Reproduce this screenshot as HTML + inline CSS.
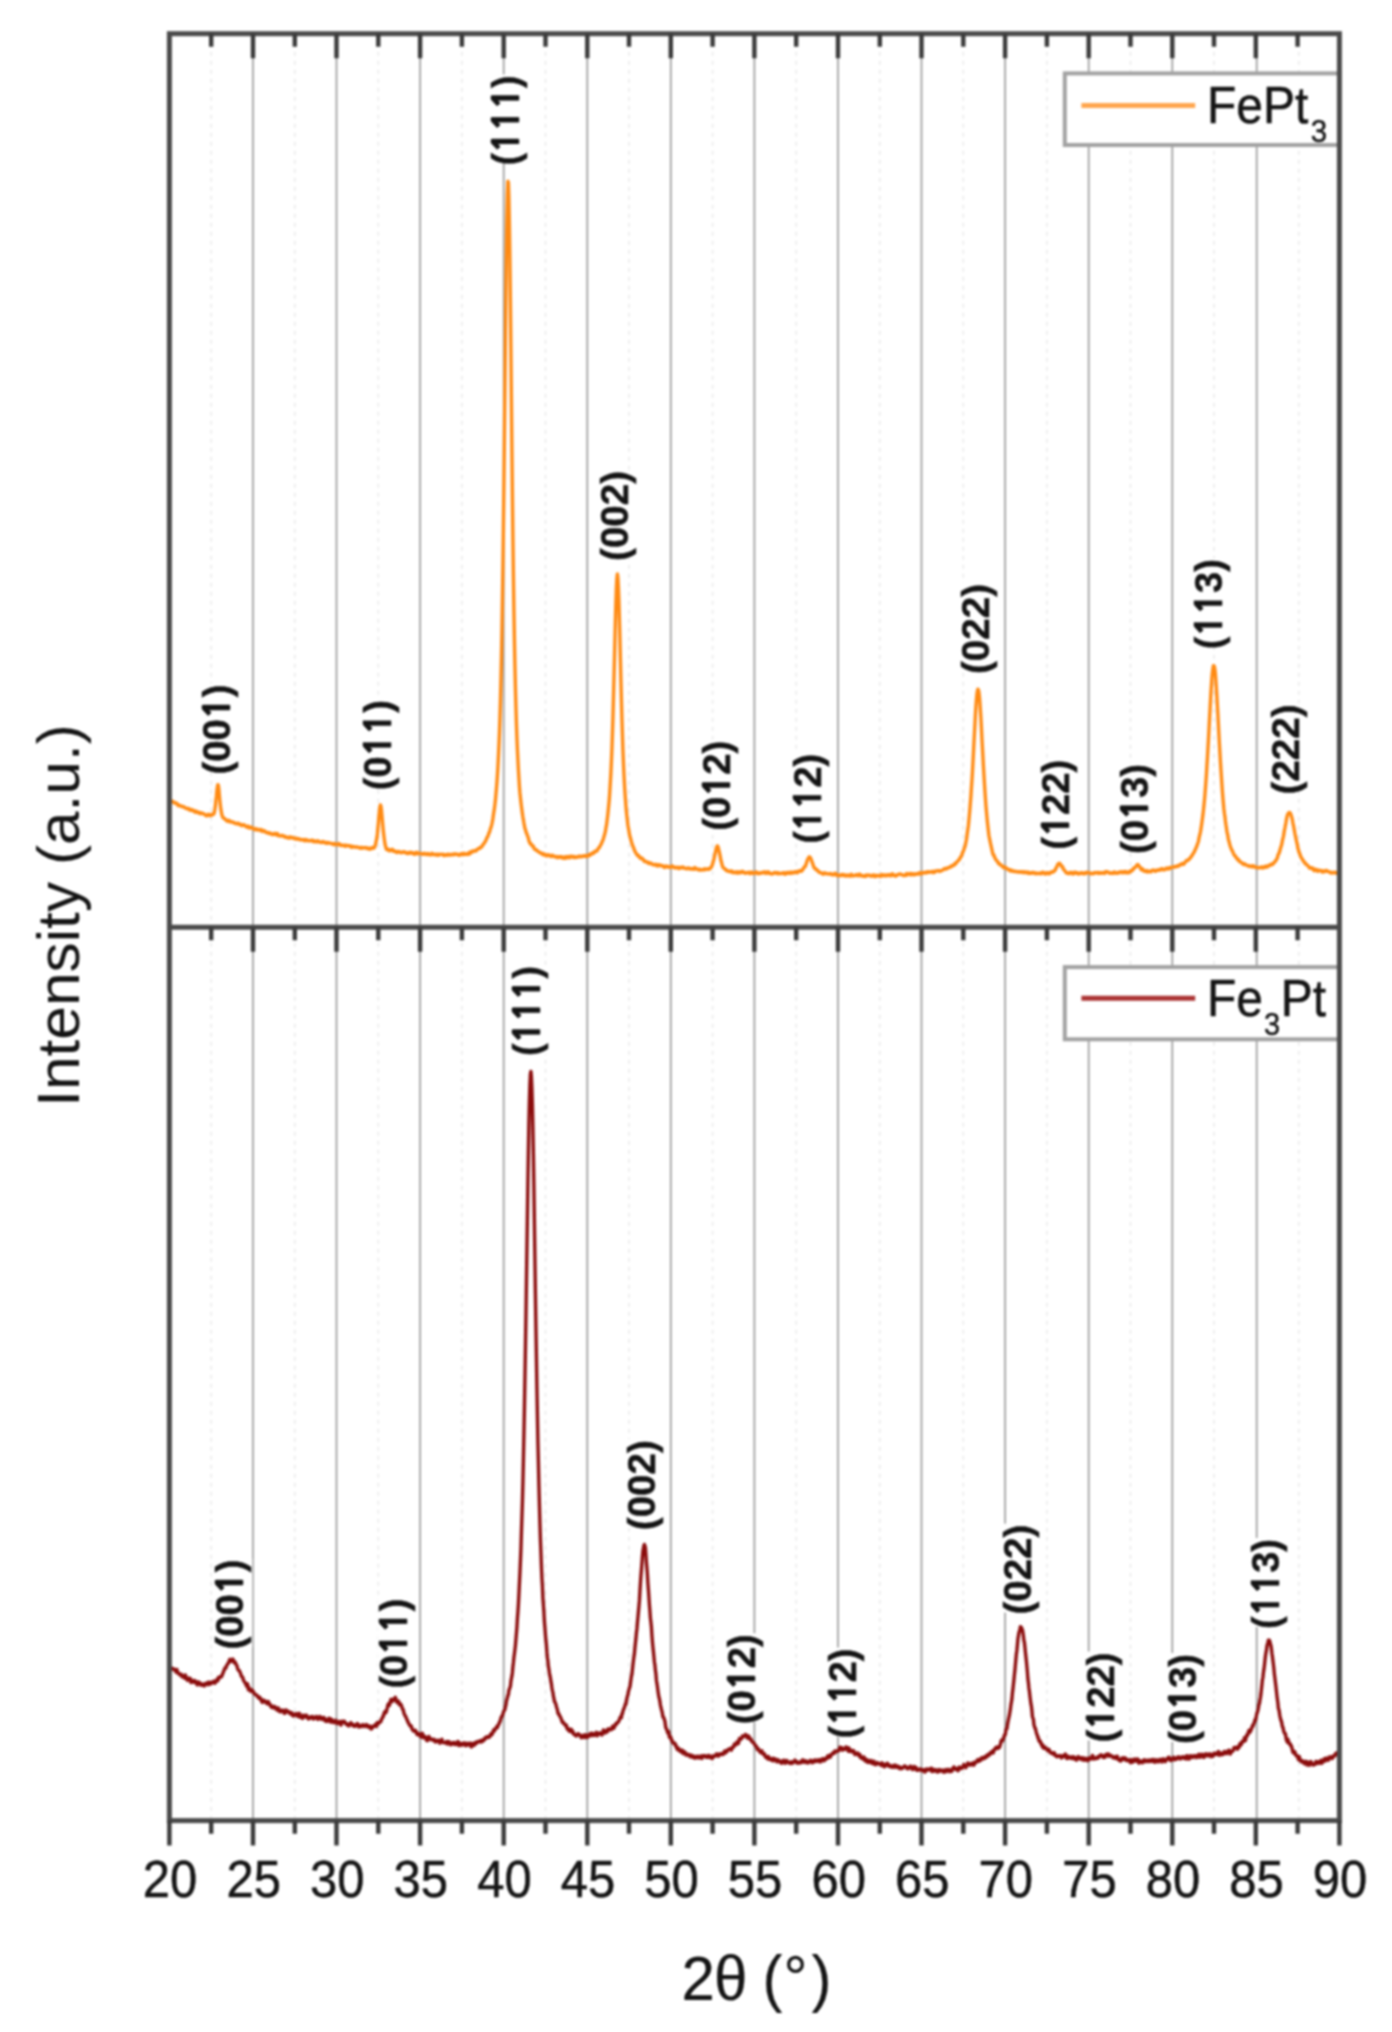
<!DOCTYPE html>
<html><head><meta charset="utf-8"><title>XRD FePt3 / Fe3Pt</title>
<style>
html,body{margin:0;padding:0;background:#fff;}
svg{display:block;filter:blur(0.95px);}
text{font-family:"Liberation Sans",Arial,sans-serif;fill:#141414;stroke:#141414;stroke-width:0.45px;}
.pk{font-weight:bold;font-size:38.5px;}
.one{font-family:"NanumGothic","Liberation Sans",sans-serif;font-weight:800;font-size:0.95em;}
</style></head><body>
<svg width="1392" height="2032" viewBox="0 0 1392 2032">
<rect x="0" y="0" width="1392" height="2032" fill="#fff"/>
<defs><clipPath id="cu"><rect x="169.4" y="33.7" width="1170.0" height="893.5"/></clipPath><clipPath id="cl"><rect x="169.4" y="927.2" width="1170.0" height="893.4"/></clipPath></defs>
<g><line x1="211.2" y1="33.7" x2="211.2" y2="1820.6" stroke="#e9e9e9" stroke-width="1.5" stroke-dasharray="4 5"/><line x1="253.0" y1="33.7" x2="253.0" y2="1820.6" stroke="#9c9c9c" stroke-width="1.7"/><line x1="294.8" y1="33.7" x2="294.8" y2="1820.6" stroke="#e9e9e9" stroke-width="1.5" stroke-dasharray="4 5"/><line x1="336.5" y1="33.7" x2="336.5" y2="1820.6" stroke="#9c9c9c" stroke-width="1.7"/><line x1="378.3" y1="33.7" x2="378.3" y2="1820.6" stroke="#e9e9e9" stroke-width="1.5" stroke-dasharray="4 5"/><line x1="420.1" y1="33.7" x2="420.1" y2="1820.6" stroke="#9c9c9c" stroke-width="1.7"/><line x1="461.9" y1="33.7" x2="461.9" y2="1820.6" stroke="#e9e9e9" stroke-width="1.5" stroke-dasharray="4 5"/><line x1="503.7" y1="33.7" x2="503.7" y2="1820.6" stroke="#9c9c9c" stroke-width="1.7"/><line x1="545.5" y1="33.7" x2="545.5" y2="1820.6" stroke="#e9e9e9" stroke-width="1.5" stroke-dasharray="4 5"/><line x1="587.3" y1="33.7" x2="587.3" y2="1820.6" stroke="#9c9c9c" stroke-width="1.7"/><line x1="629.0" y1="33.7" x2="629.0" y2="1820.6" stroke="#e9e9e9" stroke-width="1.5" stroke-dasharray="4 5"/><line x1="670.8" y1="33.7" x2="670.8" y2="1820.6" stroke="#9c9c9c" stroke-width="1.7"/><line x1="712.6" y1="33.7" x2="712.6" y2="1820.6" stroke="#e9e9e9" stroke-width="1.5" stroke-dasharray="4 5"/><line x1="754.4" y1="33.7" x2="754.4" y2="1820.6" stroke="#9c9c9c" stroke-width="1.7"/><line x1="796.2" y1="33.7" x2="796.2" y2="1820.6" stroke="#e9e9e9" stroke-width="1.5" stroke-dasharray="4 5"/><line x1="838.0" y1="33.7" x2="838.0" y2="1820.6" stroke="#9c9c9c" stroke-width="1.7"/><line x1="879.8" y1="33.7" x2="879.8" y2="1820.6" stroke="#e9e9e9" stroke-width="1.5" stroke-dasharray="4 5"/><line x1="921.5" y1="33.7" x2="921.5" y2="1820.6" stroke="#9c9c9c" stroke-width="1.7"/><line x1="963.3" y1="33.7" x2="963.3" y2="1820.6" stroke="#e9e9e9" stroke-width="1.5" stroke-dasharray="4 5"/><line x1="1005.1" y1="33.7" x2="1005.1" y2="1820.6" stroke="#9c9c9c" stroke-width="1.7"/><line x1="1046.9" y1="33.7" x2="1046.9" y2="1820.6" stroke="#e9e9e9" stroke-width="1.5" stroke-dasharray="4 5"/><line x1="1088.7" y1="33.7" x2="1088.7" y2="1820.6" stroke="#9c9c9c" stroke-width="1.7"/><line x1="1130.5" y1="33.7" x2="1130.5" y2="1820.6" stroke="#e9e9e9" stroke-width="1.5" stroke-dasharray="4 5"/><line x1="1172.3" y1="33.7" x2="1172.3" y2="1820.6" stroke="#9c9c9c" stroke-width="1.7"/><line x1="1214.0" y1="33.7" x2="1214.0" y2="1820.6" stroke="#e9e9e9" stroke-width="1.5" stroke-dasharray="4 5"/><line x1="1256.7" y1="33.7" x2="1256.7" y2="1820.6" stroke="#9c9c9c" stroke-width="1.7"/><line x1="1298.8" y1="33.7" x2="1298.8" y2="1820.6" stroke="#e9e9e9" stroke-width="1.5" stroke-dasharray="4 5"/></g>
<path clip-path="url(#cu)" d="M169.4 801.2L169.9 801.7L170.4 801.5L170.9 801.2L171.4 801.0L171.9 801.5L172.4 801.4L172.9 801.3L173.4 802.0L173.9 802.5L174.4 803.0L174.9 802.7L175.4 803.1L175.9 803.4L176.4 803.0L176.9 803.8L177.4 804.2L177.9 805.4L178.4 805.2L178.9 805.0L179.4 805.7L179.9 805.6L180.4 806.0L180.9 805.8L181.4 806.1L181.9 806.6L182.4 806.9L182.9 806.9L183.4 806.5L183.9 807.0L184.4 807.2L184.9 807.7L185.4 807.8L185.9 808.4L186.4 808.3L186.9 808.4L187.4 808.8L187.9 808.4L188.4 808.5L188.9 808.7L189.4 809.9L189.9 809.7L190.4 810.0L190.9 810.3L191.4 810.1L191.9 809.6L192.4 810.5L192.9 810.5L193.4 811.0L193.9 810.5L194.4 810.8L194.9 811.7L195.4 812.3L195.9 811.5L196.4 811.2L196.9 811.7L197.4 812.4L197.9 812.5L198.4 812.8L198.9 812.4L199.4 813.0L199.9 813.6L200.4 813.3L200.9 812.8L201.4 813.0L201.9 813.7L202.4 813.2L202.9 813.6L203.4 813.6L203.9 813.9L204.4 814.2L204.9 814.5L205.4 815.3L205.9 815.3L206.4 815.8L206.9 815.4L207.4 815.2L207.9 815.5L208.4 814.3L208.9 814.9L209.4 815.4L209.9 815.0L210.4 815.6L210.9 815.4L211.4 814.5L211.9 815.0L212.4 814.7L212.9 814.6L213.4 814.2L213.9 813.8L214.4 812.0L214.9 809.3L215.4 805.8L215.9 800.4L216.4 796.2L216.9 790.6L217.4 786.9L217.9 784.7L218.4 785.6L218.9 789.5L219.4 795.6L219.9 801.1L220.4 805.6L220.9 809.6L221.4 812.3L221.9 814.8L222.4 816.2L222.9 817.7L223.4 817.7L223.9 818.3L224.4 818.5L224.9 818.8L225.4 819.7L225.9 819.9L226.4 820.4L226.9 820.9L227.4 821.3L227.9 820.5L228.4 821.0L228.9 820.3L229.4 820.8L229.9 821.9L230.4 821.7L230.9 821.6L231.4 821.8L231.9 821.9L232.4 822.1L232.9 821.9L233.4 822.6L233.9 823.0L234.4 822.8L234.9 823.0L235.4 823.3L235.9 823.7L236.4 823.7L236.9 823.9L237.4 823.6L237.9 823.2L238.4 823.4L238.9 824.1L239.4 824.6L239.9 824.5L240.4 824.2L240.9 824.5L241.4 825.3L241.9 825.7L242.4 825.1L242.9 825.1L243.4 824.6L243.9 824.6L244.4 825.2L244.9 825.5L245.4 826.1L245.9 826.6L246.4 826.8L246.9 827.1L247.4 826.6L247.9 826.1L248.4 826.7L248.9 827.9L249.4 827.7L249.9 827.0L250.4 827.3L250.9 828.0L251.4 827.4L251.9 828.0L252.4 827.7L252.9 828.5L253.4 828.7L253.9 828.7L254.4 829.5L254.9 829.0L255.4 828.6L255.9 829.6L256.4 829.1L256.9 830.1L257.4 829.8L257.9 829.3L258.4 829.5L258.9 829.8L259.4 830.0L259.9 830.1L260.4 830.7L260.9 829.6L261.4 829.9L261.9 830.3L262.4 831.4L262.9 830.4L263.4 830.7L263.9 830.6L264.4 830.8L264.9 831.5L265.4 831.9L265.9 832.5L266.4 832.1L266.9 832.3L267.4 832.8L267.9 833.1L268.4 832.7L268.9 833.3L269.4 832.7L269.9 833.7L270.4 833.5L270.9 833.4L271.4 833.6L271.9 834.0L272.4 834.6L272.9 834.2L273.4 833.9L273.9 834.3L274.4 833.9L274.9 833.4L275.4 834.3L275.9 834.3L276.4 835.0L276.9 834.5L277.4 833.5L277.9 834.4L278.4 834.9L278.9 835.8L279.4 835.8L279.9 835.8L280.4 836.0L280.9 835.7L281.4 835.8L281.9 835.3L282.4 835.9L282.9 835.7L283.4 835.8L283.9 836.4L284.4 836.8L284.9 836.3L285.4 837.3L285.9 836.8L286.4 837.2L286.9 837.5L287.4 837.4L287.9 837.3L288.4 838.0L288.9 838.1L289.4 837.9L289.9 836.9L290.4 836.9L290.9 837.8L291.4 837.9L291.9 837.4L292.4 837.4L292.9 837.6L293.4 838.1L293.9 838.3L294.4 838.7L294.9 838.1L295.4 838.7L295.9 838.4L296.4 838.3L296.9 839.2L297.4 839.0L297.9 838.8L298.4 838.7L298.9 838.6L299.4 839.5L299.9 839.8L300.4 839.8L300.9 839.6L301.4 839.8L301.9 839.5L302.4 839.7L302.9 839.7L303.4 839.7L303.9 840.3L304.4 840.7L304.9 840.8L305.4 839.5L305.9 840.4L306.4 840.5L306.9 840.0L307.4 840.0L307.9 840.6L308.4 840.9L308.9 840.9L309.4 840.7L309.9 840.6L310.4 840.9L310.9 840.7L311.4 840.2L311.9 840.2L312.4 840.4L312.9 840.7L313.4 841.7L313.9 840.8L314.4 841.1L314.9 841.0L315.4 841.2L315.9 841.8L316.4 842.0L316.9 841.6L317.4 841.3L317.9 840.8L318.4 841.1L318.9 841.9L319.4 841.7L319.9 842.0L320.4 842.2L320.9 842.2L321.4 842.6L321.9 842.3L322.4 841.8L322.9 841.5L323.4 842.3L323.9 842.2L324.4 842.2L324.9 842.7L325.4 842.3L325.9 843.2L326.4 843.3L326.9 842.8L327.4 842.6L327.9 843.2L328.4 842.6L328.9 842.6L329.4 842.9L329.9 843.2L330.4 843.3L330.9 843.5L331.4 843.4L331.9 843.4L332.4 844.1L332.9 844.2L333.4 843.8L333.9 844.6L334.4 843.5L334.9 843.8L335.4 844.3L335.9 844.7L336.4 844.5L336.9 844.3L337.4 844.7L337.9 844.5L338.4 844.8L338.9 843.6L339.4 844.3L339.9 844.3L340.4 845.0L340.9 845.4L341.4 845.6L341.9 845.2L342.4 845.4L342.9 845.3L343.4 845.4L343.9 845.4L344.4 845.2L344.9 846.3L345.4 846.3L345.9 845.2L346.4 845.9L346.9 845.4L347.4 845.6L347.9 845.7L348.4 845.7L348.9 846.1L349.4 846.1L349.9 845.7L350.4 846.1L350.9 846.5L351.4 847.3L351.9 846.9L352.4 846.3L352.9 846.5L353.4 847.0L353.9 846.6L354.4 846.6L354.9 847.1L355.4 847.2L355.9 847.3L356.4 847.1L356.9 846.9L357.4 847.1L357.9 847.2L358.4 847.3L358.9 847.7L359.4 847.9L359.9 848.1L360.4 848.2L360.9 847.7L361.4 847.3L361.9 848.0L362.4 848.0L362.9 848.1L363.4 847.6L363.9 847.8L364.4 847.8L364.9 847.6L365.4 847.7L365.9 847.4L366.4 847.9L366.9 848.6L367.4 848.2L367.9 848.3L368.4 847.9L368.9 848.4L369.4 849.2L369.9 848.3L370.4 848.2L370.9 848.8L371.4 848.7L371.9 848.5L372.4 847.4L372.9 847.5L373.4 847.9L373.9 848.1L374.4 847.6L374.9 846.3L375.4 844.9L375.9 842.6L376.4 840.2L376.9 837.9L377.4 833.7L377.9 828.0L378.4 823.1L378.9 816.2L379.4 811.4L379.9 806.9L380.4 805.0L380.9 806.1L381.4 809.5L381.9 815.1L382.4 820.8L382.9 826.6L383.4 831.8L383.9 836.0L384.4 839.9L384.9 843.4L385.4 845.8L385.9 847.6L386.4 849.4L386.9 849.6L387.4 849.7L387.9 849.2L388.4 849.4L388.9 850.7L389.4 850.7L389.9 850.4L390.4 850.6L390.9 849.8L391.4 849.9L391.9 849.8L392.4 849.4L392.9 850.5L393.4 851.2L393.9 851.1L394.4 851.3L394.9 850.9L395.4 851.3L395.9 851.7L396.4 852.3L396.9 852.6L397.4 852.3L397.9 852.0L398.4 851.5L398.9 851.4L399.4 851.9L399.9 852.2L400.4 852.1L400.9 852.8L401.4 852.7L401.9 852.4L402.4 852.2L402.9 852.3L403.4 851.9L403.9 851.7L404.4 852.2L404.9 852.1L405.4 852.2L405.9 852.9L406.4 852.7L406.9 853.2L407.4 853.0L407.9 853.5L408.4 853.4L408.9 852.4L409.4 853.2L409.9 853.0L410.4 852.2L410.9 852.7L411.4 853.0L411.9 852.5L412.4 852.6L412.9 853.2L413.4 853.8L413.9 854.1L414.4 854.2L414.9 854.3L415.4 852.8L415.9 852.9L416.4 853.3L416.9 852.3L417.4 853.3L417.9 853.9L418.4 853.5L418.9 853.5L419.4 853.2L419.9 853.5L420.4 853.7L420.9 853.8L421.4 853.5L421.9 853.9L422.4 853.8L422.9 854.4L423.4 854.4L423.9 853.6L424.4 853.3L424.9 853.8L425.4 853.8L425.9 854.3L426.4 854.6L426.9 854.5L427.4 853.8L427.9 853.6L428.4 854.3L428.9 854.0L429.4 854.7L429.9 854.6L430.4 854.8L430.9 854.4L431.4 854.5L431.9 853.3L432.4 853.9L432.9 854.6L433.4 854.3L433.9 854.2L434.4 854.5L434.9 854.7L435.4 854.4L435.9 854.9L436.4 854.2L436.9 855.0L437.4 854.4L437.9 854.3L438.4 855.2L438.9 854.7L439.4 854.2L439.9 854.6L440.4 854.4L440.9 854.3L441.4 854.4L441.9 854.4L442.4 854.3L442.9 854.3L443.4 855.4L443.9 855.0L444.4 855.4L444.9 854.7L445.4 855.1L445.9 854.6L446.4 854.7L446.9 855.2L447.4 854.9L447.9 854.2L448.4 854.4L448.9 854.7L449.4 855.1L449.9 854.7L450.4 854.7L450.9 854.9L451.4 854.3L451.9 854.6L452.4 854.4L452.9 854.9L453.4 854.9L453.9 854.8L454.4 853.8L454.9 854.3L455.4 854.4L455.9 854.2L456.4 854.3L456.9 854.0L457.4 854.4L457.9 854.8L458.4 855.0L458.9 854.5L459.4 855.2L459.9 855.2L460.4 854.4L460.9 854.3L461.4 853.6L461.9 853.9L462.4 854.3L462.9 854.7L463.4 854.2L463.9 853.3L464.4 853.5L464.9 854.2L465.4 854.0L465.9 854.3L466.4 854.2L466.9 854.5L467.4 854.1L467.9 853.3L468.4 853.4L468.9 854.2L469.4 853.2L469.9 852.1L470.4 853.2L470.9 852.9L471.4 852.2L471.9 851.8L472.4 851.1L472.9 851.6L473.4 851.5L473.9 851.1L474.4 850.8L474.9 850.5L475.4 850.9L475.9 850.4L476.4 850.7L476.9 849.8L477.4 849.2L477.9 848.9L478.4 848.5L478.9 848.3L479.4 848.5L479.9 848.4L480.4 847.2L480.9 847.3L481.4 846.7L481.9 846.7L482.4 845.7L482.9 844.6L483.4 844.4L483.9 843.9L484.4 842.8L484.9 842.1L485.4 841.3L485.9 840.6L486.4 838.9L486.9 837.7L487.4 837.1L487.9 836.2L488.4 834.8L488.9 832.9L489.4 832.5L489.9 830.7L490.4 828.6L490.9 827.7L491.4 825.9L491.9 823.8L492.4 821.4L492.9 818.6L493.4 815.0L493.9 811.8L494.4 808.4L494.9 804.6L495.4 800.3L495.9 794.7L496.4 788.9L496.9 782.7L497.4 775.5L497.9 767.1L498.4 757.1L498.9 746.2L499.4 734.2L499.9 719.7L500.4 703.0L500.9 682.3L501.4 659.5L501.9 633.5L502.4 602.0L502.9 567.2L503.4 527.8L503.9 485.7L504.4 439.1L504.9 390.2L505.4 341.3L505.9 294.2L506.4 252.3L506.9 218.0L507.4 193.7L507.9 181.3L508.4 182.6L508.9 197.2L509.4 223.8L509.9 258.9L510.4 302.7L510.9 350.4L511.4 399.7L511.9 448.1L512.4 494.2L512.9 537.0L513.4 575.4L513.9 609.5L514.4 638.9L514.9 664.5L515.4 687.0L515.9 706.0L516.4 723.0L516.9 737.3L517.4 749.3L517.9 759.7L518.4 769.5L518.9 777.8L519.4 786.1L519.9 792.5L520.4 797.3L520.9 802.0L521.4 806.1L521.9 810.0L522.4 813.7L522.9 817.1L523.4 819.8L523.9 823.0L524.4 825.6L524.9 828.5L525.4 829.4L525.9 831.6L526.4 833.0L526.9 833.9L527.4 835.6L527.9 836.5L528.4 838.2L528.9 840.7L529.4 841.9L529.9 843.1L530.4 843.9L530.9 843.6L531.4 844.6L531.9 845.3L532.4 846.2L532.9 846.3L533.4 846.2L533.9 848.2L534.4 849.0L534.9 849.3L535.4 849.4L535.9 849.9L536.4 849.7L536.9 850.8L537.4 851.1L537.9 851.4L538.4 851.5L538.9 851.9L539.4 852.3L539.9 852.4L540.4 853.2L540.9 853.3L541.4 853.4L541.9 853.2L542.4 854.1L542.9 854.7L543.4 854.8L543.9 853.9L544.4 854.1L544.9 854.9L545.4 855.0L545.9 855.6L546.4 855.2L546.9 855.6L547.4 855.8L547.9 854.7L548.4 855.0L548.9 855.3L549.4 855.3L549.9 855.3L550.4 856.3L550.9 856.2L551.4 856.5L551.9 855.8L552.4 855.2L552.9 855.6L553.4 856.2L553.9 856.1L554.4 856.5L554.9 856.9L555.4 856.6L555.9 856.6L556.4 856.4L556.9 857.0L557.4 857.7L557.9 857.5L558.4 857.0L558.9 856.6L559.4 856.7L559.9 857.2L560.4 856.8L560.9 857.5L561.4 856.7L561.9 856.9L562.4 857.5L562.9 858.1L563.4 857.4L563.9 857.6L564.4 858.4L564.9 858.3L565.4 856.8L565.9 857.1L566.4 858.1L566.9 857.1L567.4 857.5L567.9 856.5L568.4 857.5L568.9 857.0L569.4 857.4L569.9 857.7L570.4 856.2L570.9 856.1L571.4 856.7L571.9 856.3L572.4 856.7L572.9 856.5L573.4 857.4L573.9 857.0L574.4 856.6L574.9 857.1L575.4 857.6L575.9 857.2L576.4 857.2L576.9 857.3L577.4 856.9L577.9 856.4L578.4 856.8L578.9 856.6L579.4 856.1L579.9 856.7L580.4 856.9L580.9 856.8L581.4 856.3L581.9 856.3L582.4 856.6L582.9 856.6L583.4 856.1L583.9 855.7L584.4 856.0L584.9 856.1L585.4 856.3L585.9 855.5L586.4 856.0L586.9 856.5L587.4 856.3L587.9 855.8L588.4 855.8L588.9 854.8L589.4 854.6L589.9 855.4L590.4 854.2L590.9 853.7L591.4 854.1L591.9 853.6L592.4 853.2L592.9 852.7L593.4 853.4L593.9 852.7L594.4 852.3L594.9 851.2L595.4 851.6L595.9 851.2L596.4 851.0L596.9 851.1L597.4 850.3L597.9 849.0L598.4 848.1L598.9 847.8L599.4 847.7L599.9 846.2L600.4 845.4L600.9 844.5L601.4 843.9L601.9 842.3L602.4 841.3L602.9 840.3L603.4 838.7L603.9 836.9L604.4 835.3L604.9 833.3L605.4 831.4L605.9 828.0L606.4 825.7L606.9 822.1L607.4 817.9L607.9 813.7L608.4 808.7L608.9 803.5L609.4 798.0L609.9 789.8L610.4 781.5L610.9 772.8L611.4 761.8L611.9 749.7L612.4 734.8L612.9 718.9L613.4 700.0L613.9 680.7L614.4 660.9L614.9 640.6L615.4 620.9L615.9 602.5L616.4 587.6L616.9 578.1L617.4 574.0L617.9 577.8L618.4 587.1L618.9 600.3L619.4 618.9L619.9 638.0L620.4 659.4L620.9 679.8L621.4 699.0L621.9 717.9L622.4 734.0L622.9 749.5L623.4 761.9L623.9 773.3L624.4 782.9L624.9 791.6L625.4 798.8L625.9 805.8L626.4 811.6L626.9 816.4L627.4 820.6L627.9 825.3L628.4 828.0L628.9 830.8L629.4 833.9L629.9 836.3L630.4 837.7L630.9 840.0L631.4 841.8L631.9 843.2L632.4 845.1L632.9 846.0L633.4 847.5L633.9 848.4L634.4 850.4L634.9 851.1L635.4 852.2L635.9 853.0L636.4 854.0L636.9 854.5L637.4 855.4L637.9 855.9L638.4 855.3L638.9 856.4L639.4 856.6L639.9 857.8L640.4 858.3L640.9 858.6L641.4 858.0L641.9 858.0L642.4 858.6L642.9 859.4L643.4 859.5L643.9 861.1L644.4 861.4L644.9 861.5L645.4 861.3L645.9 861.5L646.4 861.8L646.9 862.0L647.4 862.3L647.9 863.0L648.4 862.3L648.9 862.9L649.4 863.6L649.9 863.0L650.4 863.3L650.9 863.5L651.4 863.3L651.9 864.1L652.4 864.1L652.9 864.8L653.4 864.8L653.9 864.6L654.4 864.8L654.9 864.7L655.4 864.2L655.9 865.2L656.4 865.4L656.9 865.8L657.4 864.8L657.9 865.6L658.4 865.9L658.9 865.7L659.4 864.8L659.9 865.3L660.4 865.3L660.9 865.5L661.4 865.8L661.9 865.5L662.4 865.8L662.9 866.0L663.4 866.7L663.9 866.4L664.4 867.4L664.9 866.4L665.4 866.4L665.9 866.9L666.4 866.1L666.9 866.6L667.4 866.8L667.9 866.5L668.4 866.5L668.9 867.3L669.4 866.9L669.9 867.0L670.4 867.1L670.9 867.5L671.4 866.4L671.9 866.1L672.4 866.0L672.9 866.5L673.4 867.1L673.9 867.5L674.4 867.2L674.9 867.9L675.4 867.6L675.9 867.8L676.4 867.3L676.9 867.7L677.4 867.3L677.9 867.9L678.4 868.1L678.9 868.6L679.4 868.0L679.9 867.3L680.4 867.9L680.9 867.9L681.4 867.7L681.9 867.2L682.4 867.9L682.9 867.1L683.4 867.3L683.9 868.1L684.4 868.0L684.9 868.2L685.4 868.4L685.9 868.5L686.4 868.8L686.9 868.8L687.4 868.4L687.9 867.9L688.4 868.0L688.9 868.0L689.4 868.4L689.9 869.0L690.4 869.1L690.9 868.6L691.4 868.7L691.9 868.7L692.4 868.5L692.9 869.2L693.4 869.3L693.9 869.2L694.4 868.5L694.9 867.6L695.4 868.0L695.9 869.0L696.4 868.9L696.9 869.0L697.4 869.0L697.9 869.3L698.4 869.2L698.9 870.0L699.4 869.6L699.9 869.3L700.4 869.9L700.9 870.0L701.4 870.0L701.9 869.9L702.4 869.7L702.9 869.7L703.4 869.8L703.9 869.7L704.4 868.8L704.9 869.7L705.4 869.4L705.9 869.2L706.4 869.2L706.9 869.0L707.4 868.8L707.9 869.0L708.4 869.4L708.9 869.1L709.4 869.1L709.9 868.2L710.4 868.4L710.9 867.3L711.4 867.2L711.9 865.9L712.4 864.6L712.9 862.8L713.4 860.9L713.9 859.2L714.4 856.8L714.9 854.5L715.4 852.7L715.9 849.8L716.4 847.8L716.9 846.6L717.4 845.9L717.9 846.5L718.4 848.0L718.9 850.4L719.4 852.3L719.9 854.9L720.4 857.4L720.9 860.4L721.4 861.9L721.9 864.0L722.4 865.9L722.9 867.3L723.4 867.8L723.9 868.2L724.4 868.3L724.9 869.0L725.4 869.6L725.9 869.5L726.4 870.5L726.9 870.8L727.4 870.8L727.9 870.7L728.4 871.2L728.9 871.1L729.4 871.5L729.9 871.2L730.4 871.8L730.9 871.0L731.4 870.9L731.9 872.0L732.4 872.3L732.9 872.7L733.4 871.9L733.9 872.2L734.4 872.5L734.9 872.6L735.4 872.2L735.9 872.7L736.4 872.5L736.9 871.8L737.4 873.0L737.9 872.6L738.4 872.9L738.9 872.2L739.4 871.8L739.9 872.4L740.4 872.7L740.9 872.2L741.4 872.3L741.9 871.8L742.4 871.2L742.9 872.2L743.4 871.8L743.9 872.4L744.4 872.9L744.9 872.8L745.4 873.3L745.9 873.0L746.4 872.9L746.9 872.7L747.4 872.8L747.9 872.8L748.4 872.3L748.9 872.4L749.4 872.3L749.9 873.7L750.4 873.6L750.9 872.8L751.4 873.0L751.9 872.1L752.4 872.4L752.9 873.3L753.4 873.0L753.9 873.4L754.4 872.9L754.9 873.0L755.4 873.0L755.9 872.0L756.4 872.0L756.9 873.2L757.4 872.6L757.9 873.2L758.4 873.7L758.9 873.3L759.4 873.5L759.9 873.3L760.4 872.8L760.9 873.1L761.4 873.2L761.9 872.6L762.4 872.6L762.9 872.2L763.4 872.4L763.9 872.7L764.4 872.4L764.9 871.9L765.4 872.7L765.9 873.4L766.4 872.8L766.9 872.9L767.4 872.7L767.9 871.7L768.4 873.3L768.9 873.3L769.4 872.6L769.9 873.3L770.4 873.5L770.9 873.9L771.4 873.8L771.9 873.7L772.4 874.0L772.9 873.4L773.4 873.4L773.9 872.8L774.4 872.5L774.9 872.9L775.4 873.1L775.9 872.5L776.4 873.0L776.9 873.5L777.4 872.8L777.9 872.8L778.4 873.7L778.9 873.1L779.4 873.4L779.9 873.6L780.4 873.5L780.9 873.4L781.4 873.5L781.9 873.5L782.4 873.4L782.9 872.7L783.4 873.0L783.9 872.8L784.4 873.6L784.9 874.3L785.4 874.2L785.9 872.8L786.4 873.4L786.9 873.3L787.4 872.8L787.9 872.4L788.4 873.2L788.9 872.9L789.4 872.9L789.9 873.0L790.4 873.4L790.9 872.1L791.4 873.0L791.9 872.6L792.4 872.6L792.9 873.0L793.4 873.0L793.9 871.9L794.4 872.5L794.9 872.5L795.4 872.1L795.9 872.0L796.4 871.5L796.9 872.2L797.4 872.7L797.9 872.1L798.4 871.7L798.9 871.0L799.4 870.9L799.9 870.6L800.4 870.7L800.9 871.3L801.4 871.2L801.9 870.9L802.4 869.6L802.9 869.5L803.4 868.4L803.9 867.5L804.4 867.2L804.9 866.2L805.4 866.3L805.9 864.7L806.4 863.0L806.9 861.8L807.4 859.8L807.9 858.9L808.4 858.4L808.9 857.3L809.4 856.7L809.9 857.5L810.4 857.6L810.9 858.9L811.4 860.0L811.9 861.7L812.4 862.7L812.9 864.4L813.4 865.8L813.9 867.4L814.4 867.7L814.9 868.6L815.4 868.4L815.9 868.9L816.4 869.9L816.9 869.8L817.4 870.5L817.9 870.7L818.4 871.5L818.9 872.1L819.4 872.0L819.9 872.5L820.4 872.4L820.9 872.7L821.4 873.0L821.9 873.3L822.4 873.5L822.9 874.1L823.4 873.5L823.9 873.5L824.4 872.8L824.9 873.6L825.4 873.2L825.9 873.3L826.4 873.4L826.9 873.8L827.4 873.8L827.9 873.8L828.4 874.0L828.9 873.9L829.4 874.1L829.9 873.7L830.4 873.8L830.9 873.5L831.4 874.3L831.9 874.7L832.4 874.9L832.9 874.8L833.4 874.4L833.9 874.7L834.4 874.0L834.9 873.2L835.4 873.4L835.9 874.7L836.4 874.8L836.9 875.4L837.4 874.7L837.9 875.2L838.4 875.6L838.9 875.6L839.4 875.3L839.9 875.5L840.4 875.0L840.9 875.7L841.4 874.8L841.9 874.5L842.4 874.7L842.9 874.5L843.4 875.5L843.9 875.5L844.4 874.9L844.9 875.7L845.4 875.9L845.9 875.3L846.4 875.8L846.9 876.0L847.4 875.3L847.9 875.0L848.4 875.2L848.9 875.6L849.4 876.0L849.9 876.2L850.4 875.5L850.9 874.6L851.4 874.2L851.9 875.3L852.4 875.7L852.9 876.0L853.4 875.6L853.9 875.5L854.4 875.6L854.9 875.6L855.4 875.5L855.9 875.0L856.4 874.6L856.9 875.0L857.4 875.1L857.9 875.8L858.4 875.1L858.9 874.4L859.4 874.1L859.9 874.7L860.4 875.8L860.9 875.4L861.4 875.1L861.9 875.4L862.4 876.1L862.9 876.2L863.4 876.2L863.9 876.2L864.4 875.7L864.9 875.6L865.4 875.7L865.9 876.4L866.4 875.0L866.9 875.0L867.4 875.4L867.9 875.3L868.4 875.4L868.9 875.3L869.4 875.0L869.9 875.5L870.4 876.0L870.9 875.6L871.4 875.7L871.9 876.1L872.4 875.5L872.9 875.5L873.4 874.9L873.9 875.9L874.4 876.4L874.9 875.9L875.4 876.5L875.9 876.4L876.4 875.2L876.9 875.5L877.4 875.6L877.9 875.8L878.4 875.9L878.9 875.5L879.4 876.0L879.9 875.9L880.4 876.5L880.9 875.9L881.4 874.6L881.9 875.9L882.4 875.9L882.9 874.9L883.4 874.9L883.9 874.8L884.4 875.5L884.9 875.2L885.4 875.8L885.9 875.4L886.4 875.8L886.9 875.3L887.4 874.8L887.9 875.3L888.4 875.2L888.9 875.5L889.4 874.7L889.9 874.6L890.4 874.8L890.9 875.8L891.4 875.7L891.9 874.8L892.4 873.7L892.9 875.2L893.4 875.3L893.9 874.7L894.4 875.3L894.9 875.6L895.4 876.2L895.9 875.7L896.4 875.2L896.9 875.4L897.4 874.7L897.9 874.6L898.4 874.4L898.9 874.4L899.4 874.1L899.9 873.9L900.4 873.9L900.9 874.5L901.4 874.7L901.9 874.7L902.4 874.9L902.9 875.1L903.4 875.1L903.9 875.7L904.4 875.3L904.9 875.1L905.4 874.6L905.9 875.0L906.4 875.3L906.9 873.6L907.4 874.3L907.9 873.9L908.4 874.2L908.9 874.3L909.4 873.7L909.9 873.4L910.4 873.6L910.9 875.0L911.4 874.0L911.9 873.8L912.4 873.8L912.9 873.7L913.4 874.3L913.9 874.9L914.4 874.3L914.9 874.2L915.4 873.8L915.9 874.4L916.4 873.9L916.9 874.0L917.4 873.7L917.9 874.0L918.4 873.7L918.9 873.1L919.4 874.0L919.9 872.8L920.4 873.0L920.9 872.9L921.4 872.6L921.9 873.7L922.4 873.4L922.9 873.0L923.4 872.5L923.9 872.8L924.4 872.7L924.9 872.6L925.4 872.3L925.9 873.0L926.4 872.8L926.9 872.5L927.4 871.9L927.9 871.7L928.4 872.2L928.9 871.9L929.4 872.2L929.9 872.0L930.4 872.1L930.9 872.1L931.4 871.7L931.9 871.6L932.4 871.5L932.9 871.8L933.4 872.6L933.9 872.3L934.4 871.2L934.9 872.1L935.4 871.5L935.9 871.0L936.4 871.0L936.9 870.9L937.4 870.9L937.9 870.7L938.4 870.6L938.9 871.0L939.4 871.4L939.9 870.8L940.4 871.1L940.9 870.9L941.4 870.9L941.9 870.4L942.4 870.1L942.9 870.1L943.4 869.3L943.9 869.2L944.4 868.6L944.9 869.1L945.4 869.0L945.9 869.0L946.4 868.5L946.9 868.0L947.4 868.4L947.9 867.9L948.4 867.7L948.9 867.5L949.4 867.6L949.9 867.3L950.4 866.6L950.9 866.1L951.4 866.6L951.9 866.1L952.4 865.8L952.9 865.2L953.4 865.5L953.9 865.2L954.4 864.5L954.9 863.5L955.4 864.2L955.9 863.4L956.4 862.5L956.9 862.1L957.4 861.3L957.9 861.1L958.4 860.5L958.9 859.6L959.4 859.6L959.9 858.5L960.4 857.1L960.9 856.9L961.4 855.9L961.9 854.6L962.4 853.1L962.9 852.1L963.4 850.9L963.9 849.5L964.4 847.8L964.9 846.7L965.4 844.9L965.9 842.3L966.4 839.7L966.9 836.2L967.4 832.3L967.9 829.0L968.4 825.4L968.9 820.2L969.4 814.8L969.9 808.9L970.4 802.3L970.9 796.1L971.4 788.2L971.9 781.0L972.4 773.0L972.9 763.5L973.4 753.8L973.9 743.7L974.4 734.4L974.9 724.8L975.4 715.0L975.9 706.7L976.4 700.1L976.9 694.4L977.4 690.9L977.9 689.2L978.4 690.0L978.9 691.9L979.4 696.5L979.9 702.7L980.4 710.3L980.9 718.2L981.4 727.4L981.9 738.0L982.4 747.1L982.9 756.2L983.4 765.7L983.9 774.2L984.4 782.5L984.9 790.6L985.4 798.1L985.9 805.4L986.4 811.0L986.9 816.7L987.4 822.0L987.9 826.5L988.4 831.0L988.9 835.5L989.4 837.8L989.9 840.3L990.4 842.9L990.9 845.2L991.4 847.3L991.9 849.6L992.4 852.0L992.9 854.2L993.4 854.9L993.9 854.9L994.4 857.0L994.9 857.8L995.4 858.5L995.9 859.8L996.4 860.4L996.9 860.9L997.4 861.2L997.9 862.4L998.4 863.3L998.9 863.2L999.4 863.6L999.9 864.7L1000.4 864.7L1000.9 865.0L1001.4 865.2L1001.9 865.7L1002.4 866.5L1002.9 866.8L1003.4 867.4L1003.9 867.8L1004.4 866.9L1004.9 867.5L1005.4 867.9L1005.9 867.5L1006.4 868.5L1006.9 868.7L1007.4 868.7L1007.9 869.2L1008.4 869.8L1008.9 870.0L1009.4 869.7L1009.9 869.8L1010.4 871.0L1010.9 870.1L1011.4 870.3L1011.9 870.4L1012.4 871.2L1012.9 871.2L1013.4 871.2L1013.9 871.0L1014.4 871.5L1014.9 871.4L1015.4 871.3L1015.9 871.4L1016.4 871.7L1016.9 871.7L1017.4 871.8L1017.9 872.1L1018.4 871.6L1018.9 871.6L1019.4 871.8L1019.9 872.2L1020.4 872.3L1020.9 872.0L1021.4 871.7L1021.9 871.8L1022.4 871.8L1022.9 872.4L1023.4 872.7L1023.9 872.6L1024.4 872.1L1024.9 871.7L1025.4 872.2L1025.9 872.6L1026.4 872.8L1026.9 872.6L1027.4 872.9L1027.9 872.0L1028.4 872.8L1028.9 873.4L1029.4 873.2L1029.9 873.1L1030.4 872.9L1030.9 873.3L1031.4 872.7L1031.9 872.6L1032.4 872.9L1032.9 872.3L1033.4 872.9L1033.9 873.1L1034.4 873.1L1034.9 872.8L1035.4 873.7L1035.9 873.1L1036.4 873.2L1036.9 873.5L1037.4 873.3L1037.9 873.6L1038.4 873.4L1038.9 873.3L1039.4 873.2L1039.9 873.5L1040.4 873.0L1040.9 873.4L1041.4 873.7L1041.9 873.0L1042.4 872.4L1042.9 872.2L1043.4 872.3L1043.9 873.0L1044.4 873.1L1044.9 873.9L1045.4 874.1L1045.9 873.0L1046.4 872.8L1046.9 872.8L1047.4 873.6L1047.9 873.6L1048.4 873.7L1048.9 872.9L1049.4 873.8L1049.9 872.8L1050.4 872.8L1050.9 872.3L1051.4 872.0L1051.9 872.2L1052.4 871.7L1052.9 871.9L1053.4 871.8L1053.9 871.2L1054.4 870.8L1054.9 870.5L1055.4 869.8L1055.9 868.1L1056.4 867.4L1056.9 866.7L1057.4 865.3L1057.9 864.2L1058.4 864.0L1058.9 863.6L1059.4 863.2L1059.9 863.8L1060.4 864.3L1060.9 865.4L1061.4 865.6L1061.9 866.8L1062.4 866.6L1062.9 867.6L1063.4 869.4L1063.9 869.6L1064.4 870.3L1064.9 870.8L1065.4 871.6L1065.9 872.4L1066.4 873.1L1066.9 872.7L1067.4 872.8L1067.9 873.2L1068.4 873.5L1068.9 873.1L1069.4 873.6L1069.9 872.6L1070.4 872.9L1070.9 872.4L1071.4 872.5L1071.9 872.4L1072.4 873.5L1072.9 874.0L1073.4 873.8L1073.9 873.5L1074.4 872.5L1074.9 872.1L1075.4 872.7L1075.9 873.2L1076.4 873.4L1076.9 872.9L1077.4 872.7L1077.9 873.1L1078.4 874.1L1078.9 873.9L1079.4 873.5L1079.9 873.3L1080.4 873.4L1080.9 873.4L1081.4 872.6L1081.9 873.5L1082.4 873.5L1082.9 873.5L1083.4 873.1L1083.9 873.6L1084.4 873.8L1084.9 873.1L1085.4 873.5L1085.9 873.0L1086.4 872.3L1086.9 873.0L1087.4 872.6L1087.9 872.6L1088.4 872.4L1088.9 872.7L1089.4 872.7L1089.9 873.0L1090.4 873.2L1090.9 873.8L1091.4 873.6L1091.9 873.5L1092.4 873.5L1092.9 873.6L1093.4 873.7L1093.9 873.5L1094.4 872.7L1094.9 872.5L1095.4 872.9L1095.9 872.8L1096.4 872.7L1096.9 872.6L1097.4 872.5L1097.9 873.2L1098.4 873.4L1098.9 872.6L1099.4 872.9L1099.9 872.9L1100.4 872.7L1100.9 873.3L1101.4 873.2L1101.9 873.1L1102.4 872.6L1102.9 873.2L1103.4 873.1L1103.9 873.1L1104.4 872.7L1104.9 873.4L1105.4 871.8L1105.9 871.8L1106.4 871.6L1106.9 871.7L1107.4 871.8L1107.9 872.1L1108.4 872.3L1108.9 872.6L1109.4 873.3L1109.9 873.3L1110.4 873.1L1110.9 872.9L1111.4 873.0L1111.9 873.2L1112.4 872.7L1112.9 873.4L1113.4 873.1L1113.9 873.2L1114.4 871.9L1114.9 872.4L1115.4 872.4L1115.9 873.1L1116.4 873.3L1116.9 873.1L1117.4 873.1L1117.9 872.7L1118.4 872.3L1118.9 872.9L1119.4 872.2L1119.9 872.2L1120.4 871.8L1120.9 871.8L1121.4 872.0L1121.9 872.6L1122.4 872.1L1122.9 872.6L1123.4 871.7L1123.9 871.7L1124.4 871.6L1124.9 872.2L1125.4 872.8L1125.9 871.5L1126.4 871.9L1126.9 872.7L1127.4 872.4L1127.9 872.9L1128.4 872.9L1128.9 872.5L1129.4 871.5L1129.9 871.2L1130.4 871.9L1130.9 871.1L1131.4 870.4L1131.9 870.1L1132.4 870.5L1132.9 869.9L1133.4 868.6L1133.9 867.9L1134.4 867.8L1134.9 867.6L1135.4 867.3L1135.9 866.5L1136.4 865.9L1136.9 865.0L1137.4 864.7L1137.9 864.5L1138.4 865.2L1138.9 866.1L1139.4 866.7L1139.9 866.9L1140.4 868.0L1140.9 869.0L1141.4 869.8L1141.9 869.0L1142.4 868.7L1142.9 869.2L1143.4 870.2L1143.9 871.0L1144.4 871.3L1144.9 871.2L1145.4 871.2L1145.9 871.0L1146.4 870.8L1146.9 870.5L1147.4 872.1L1147.9 871.5L1148.4 871.5L1148.9 871.4L1149.4 871.6L1149.9 871.2L1150.4 871.4L1150.9 872.0L1151.4 871.1L1151.9 870.7L1152.4 870.3L1152.9 870.3L1153.4 869.9L1153.9 870.4L1154.4 870.7L1154.9 871.1L1155.4 871.3L1155.9 870.7L1156.4 870.5L1156.9 870.0L1157.4 870.1L1157.9 870.1L1158.4 870.3L1158.9 870.1L1159.4 869.5L1159.9 870.1L1160.4 869.9L1160.9 869.2L1161.4 868.7L1161.9 869.4L1162.4 868.7L1162.9 869.3L1163.4 869.9L1163.9 869.8L1164.4 869.8L1164.9 869.6L1165.4 869.0L1165.9 869.0L1166.4 868.1L1166.9 868.6L1167.4 868.8L1167.9 868.7L1168.4 869.0L1168.9 868.5L1169.4 867.6L1169.9 868.4L1170.4 868.2L1170.9 867.7L1171.4 867.4L1171.9 867.3L1172.4 867.4L1172.9 866.8L1173.4 867.0L1173.9 866.8L1174.4 867.1L1174.9 866.7L1175.4 866.9L1175.9 866.2L1176.4 866.3L1176.9 866.0L1177.4 866.3L1177.9 866.1L1178.4 866.2L1178.9 865.5L1179.4 865.0L1179.9 864.9L1180.4 864.3L1180.9 864.2L1181.4 864.6L1181.9 863.8L1182.4 863.4L1182.9 863.4L1183.4 863.9L1183.9 864.2L1184.4 863.0L1184.9 862.4L1185.4 862.1L1185.9 861.5L1186.4 860.4L1186.9 860.7L1187.4 860.6L1187.9 860.3L1188.4 860.0L1188.9 859.5L1189.4 858.6L1189.9 858.4L1190.4 857.8L1190.9 857.2L1191.4 856.1L1191.9 855.7L1192.4 855.1L1192.9 854.0L1193.4 853.1L1193.9 852.4L1194.4 851.7L1194.9 850.5L1195.4 849.2L1195.9 848.4L1196.4 846.8L1196.9 845.9L1197.4 844.2L1197.9 842.8L1198.4 841.6L1198.9 838.6L1199.4 836.4L1199.9 834.3L1200.4 832.1L1200.9 829.1L1201.4 825.9L1201.9 822.6L1202.4 818.8L1202.9 815.1L1203.4 810.6L1203.9 805.8L1204.4 800.7L1204.9 795.2L1205.4 788.5L1205.9 781.6L1206.4 774.6L1206.9 765.9L1207.4 758.0L1207.9 749.1L1208.4 740.6L1208.9 731.0L1209.4 721.1L1209.9 712.2L1210.4 702.6L1210.9 693.4L1211.4 685.7L1211.9 677.8L1212.4 672.4L1212.9 668.7L1213.4 665.7L1213.9 665.7L1214.4 666.7L1214.9 669.6L1215.4 673.8L1215.9 681.0L1216.4 688.9L1216.9 696.9L1217.4 706.0L1217.9 714.5L1218.4 724.5L1218.9 734.4L1219.4 743.5L1219.9 752.4L1220.4 761.2L1220.9 769.2L1221.4 776.5L1221.9 784.4L1222.4 791.6L1222.9 797.8L1223.4 803.6L1223.9 809.0L1224.4 813.3L1224.9 816.4L1225.4 820.9L1225.9 824.6L1226.4 827.7L1226.9 831.3L1227.4 833.7L1227.9 835.9L1228.4 839.5L1228.9 841.1L1229.4 843.0L1229.9 844.9L1230.4 846.6L1230.9 847.8L1231.4 849.2L1231.9 850.2L1232.4 851.1L1232.9 852.1L1233.4 853.4L1233.9 854.5L1234.4 855.4L1234.9 855.4L1235.4 856.2L1235.9 857.3L1236.4 857.7L1236.9 858.6L1237.4 859.1L1237.9 860.1L1238.4 859.4L1238.9 860.3L1239.4 861.3L1239.9 861.8L1240.4 861.8L1240.9 862.1L1241.4 862.4L1241.9 863.0L1242.4 863.6L1242.9 863.5L1243.4 864.2L1243.9 864.5L1244.4 863.7L1244.9 864.1L1245.4 864.5L1245.9 864.6L1246.4 865.1L1246.9 865.4L1247.4 865.6L1247.9 865.7L1248.4 866.0L1248.9 865.9L1249.4 866.4L1249.9 865.8L1250.4 866.3L1250.9 866.4L1251.4 866.5L1251.9 866.9L1252.4 866.8L1252.9 865.7L1253.4 865.9L1253.9 866.5L1254.4 866.9L1254.9 867.0L1255.4 867.0L1255.9 867.6L1256.4 867.6L1256.9 867.2L1257.4 867.1L1257.9 867.8L1258.4 867.8L1258.9 867.9L1259.4 867.8L1259.9 867.8L1260.4 867.5L1260.9 867.2L1261.4 867.0L1261.9 866.9L1262.4 867.9L1262.9 868.0L1263.4 867.7L1263.9 867.5L1264.4 866.7L1264.9 867.2L1265.4 866.4L1265.9 867.1L1266.4 866.7L1266.9 866.1L1267.4 866.9L1267.9 866.2L1268.4 866.0L1268.9 865.9L1269.4 865.1L1269.9 865.4L1270.4 864.7L1270.9 864.7L1271.4 864.1L1271.9 864.7L1272.4 864.2L1272.9 864.3L1273.4 863.3L1273.9 862.8L1274.4 862.4L1274.9 861.7L1275.4 860.8L1275.9 860.6L1276.4 859.7L1276.9 858.6L1277.4 857.8L1277.9 855.4L1278.4 854.2L1278.9 853.6L1279.4 852.1L1279.9 850.6L1280.4 848.5L1280.9 846.9L1281.4 845.7L1281.9 843.3L1282.4 840.7L1282.9 838.4L1283.4 836.6L1283.9 833.6L1284.4 830.3L1284.9 828.0L1285.4 825.3L1285.9 822.8L1286.4 819.6L1286.9 817.1L1287.4 815.3L1287.9 813.9L1288.4 813.4L1288.9 812.7L1289.4 812.5L1289.9 812.6L1290.4 813.4L1290.9 814.6L1291.4 816.2L1291.9 817.8L1292.4 819.9L1292.9 823.1L1293.4 825.1L1293.9 827.7L1294.4 830.6L1294.9 833.5L1295.4 835.9L1295.9 838.3L1296.4 840.6L1296.9 842.8L1297.4 845.0L1297.9 848.6L1298.4 849.4L1298.9 852.1L1299.4 852.7L1299.9 854.2L1300.4 855.5L1300.9 857.0L1301.4 857.8L1301.9 858.4L1302.4 859.4L1302.9 860.3L1303.4 860.7L1303.9 861.7L1304.4 862.7L1304.9 862.7L1305.4 863.1L1305.9 864.4L1306.4 864.5L1306.9 864.9L1307.4 865.3L1307.9 865.6L1308.4 866.4L1308.9 866.9L1309.4 868.0L1309.9 867.7L1310.4 867.9L1310.9 867.7L1311.4 868.4L1311.9 867.8L1312.4 867.9L1312.9 868.3L1313.4 869.8L1313.9 870.4L1314.4 870.7L1314.9 870.1L1315.4 869.2L1315.9 869.7L1316.4 870.3L1316.9 869.9L1317.4 870.8L1317.9 871.4L1318.4 870.2L1318.9 870.2L1319.4 870.3L1319.9 870.4L1320.4 870.5L1320.9 870.7L1321.4 870.7L1321.9 872.0L1322.4 871.4L1322.9 870.8L1323.4 871.5L1323.9 871.9L1324.4 871.2L1324.9 871.0L1325.4 870.9L1325.9 870.4L1326.4 870.5L1326.9 871.3L1327.4 871.0L1327.9 871.4L1328.4 871.6L1328.9 871.6L1329.4 872.0L1329.9 872.2L1330.4 872.7L1330.9 872.6L1331.4 872.2L1331.9 873.0L1332.4 872.8L1332.9 872.9L1333.4 872.8L1333.9 872.6L1334.4 872.2L1334.9 872.9L1335.4 872.5L1335.9 872.5L1336.4 873.0L1336.9 873.3L1337.4 873.1L1337.9 873.9L1338.4 873.4L1338.9 874.3L1339.4 874.4" fill="none" stroke="#ff8a12" stroke-width="3.4" stroke-linejoin="round"/>
<path clip-path="url(#cl)" d="M169.4 1669.6L169.9 1667.8L170.4 1668.4L170.9 1668.6L171.4 1669.5L171.9 1668.0L172.4 1668.6L172.9 1668.7L173.4 1668.7L173.9 1669.1L174.4 1669.8L174.9 1670.5L175.4 1670.4L175.9 1671.9L176.4 1671.7L176.9 1669.4L177.4 1672.9L177.9 1672.9L178.4 1672.8L178.9 1673.9L179.4 1674.5L179.9 1674.8L180.4 1674.2L180.9 1675.2L181.4 1674.2L181.9 1676.8L182.4 1675.4L182.9 1676.1L183.4 1676.8L183.9 1677.4L184.4 1677.4L184.9 1678.3L185.4 1674.9L185.9 1677.1L186.4 1678.0L186.9 1678.3L187.4 1680.4L187.9 1678.9L188.4 1679.5L188.9 1678.0L189.4 1679.8L189.9 1678.8L190.4 1678.6L190.9 1682.5L191.4 1682.4L191.9 1681.9L192.4 1682.0L192.9 1680.6L193.4 1680.6L193.9 1682.2L194.4 1680.4L194.9 1682.2L195.4 1681.0L195.9 1682.5L196.4 1681.9L196.9 1684.6L197.4 1684.9L197.9 1683.6L198.4 1681.9L198.9 1682.5L199.4 1683.4L199.9 1682.9L200.4 1684.0L200.9 1685.2L201.4 1684.6L201.9 1684.0L202.4 1685.1L202.9 1684.4L203.4 1685.3L203.9 1684.5L204.4 1686.0L204.9 1684.7L205.4 1683.5L205.9 1684.2L206.4 1683.7L206.9 1683.1L207.4 1683.7L207.9 1684.7L208.4 1682.1L208.9 1683.2L209.4 1683.4L209.9 1683.3L210.4 1684.1L210.9 1682.2L211.4 1683.3L211.9 1682.7L212.4 1682.7L212.9 1682.2L213.4 1681.7L213.9 1681.1L214.4 1681.6L214.9 1683.2L215.4 1682.5L215.9 1681.8L216.4 1681.0L216.9 1679.4L217.4 1679.6L217.9 1680.7L218.4 1677.5L218.9 1678.0L219.4 1678.0L219.9 1676.9L220.4 1676.5L220.9 1676.5L221.4 1676.8L221.9 1675.6L222.4 1674.9L222.9 1672.9L223.4 1672.1L223.9 1670.6L224.4 1669.6L224.9 1668.0L225.4 1667.9L225.9 1668.0L226.4 1666.0L226.9 1665.1L227.4 1664.6L227.9 1663.4L228.4 1663.4L228.9 1662.3L229.4 1660.2L229.9 1659.4L230.4 1660.6L230.9 1660.8L231.4 1661.3L231.9 1660.7L232.4 1660.6L232.9 1659.1L233.4 1661.7L233.9 1660.8L234.4 1662.8L234.9 1661.9L235.4 1662.6L235.9 1664.2L236.4 1664.9L236.9 1665.5L237.4 1668.0L237.9 1669.3L238.4 1670.2L238.9 1670.5L239.4 1670.8L239.9 1672.0L240.4 1673.0L240.9 1674.5L241.4 1676.4L241.9 1676.9L242.4 1677.0L242.9 1677.8L243.4 1680.5L243.9 1680.9L244.4 1681.7L244.9 1682.5L245.4 1683.6L245.9 1684.1L246.4 1685.7L246.9 1686.4L247.4 1683.6L247.9 1685.6L248.4 1689.7L248.9 1687.4L249.4 1688.4L249.9 1690.0L250.4 1689.9L250.9 1691.5L251.4 1690.0L251.9 1689.8L252.4 1691.0L252.9 1691.3L253.4 1691.4L253.9 1693.3L254.4 1694.0L254.9 1694.2L255.4 1694.2L255.9 1695.1L256.4 1695.4L256.9 1695.2L257.4 1696.5L257.9 1697.1L258.4 1697.3L258.9 1698.2L259.4 1697.1L259.9 1697.8L260.4 1698.0L260.9 1700.1L261.4 1700.2L261.9 1702.0L262.4 1702.4L262.9 1700.9L263.4 1699.9L263.9 1701.3L264.4 1701.2L264.9 1701.6L265.4 1701.0L265.9 1702.6L266.4 1703.0L266.9 1703.6L267.4 1703.9L267.9 1703.0L268.4 1701.6L268.9 1703.2L269.4 1703.6L269.9 1704.1L270.4 1705.8L270.9 1705.6L271.4 1707.2L271.9 1706.7L272.4 1707.2L272.9 1707.4L273.4 1707.9L273.9 1706.3L274.4 1708.1L274.9 1708.0L275.4 1707.1L275.9 1708.4L276.4 1708.8L276.9 1710.0L277.4 1710.0L277.9 1709.8L278.4 1708.0L278.9 1710.6L279.4 1711.5L279.9 1711.3L280.4 1711.1L280.9 1711.8L281.4 1710.2L281.9 1711.3L282.4 1711.1L282.9 1710.2L283.4 1711.3L283.9 1711.8L284.4 1713.4L284.9 1713.3L285.4 1711.0L285.9 1709.9L286.4 1711.5L286.9 1712.0L287.4 1711.6L287.9 1711.0L288.4 1712.1L288.9 1711.7L289.4 1712.1L289.9 1713.8L290.4 1713.9L290.9 1713.0L291.4 1712.5L291.9 1713.2L292.4 1715.4L292.9 1714.1L293.4 1715.9L293.9 1714.2L294.4 1714.2L294.9 1715.1L295.4 1714.2L295.9 1714.7L296.4 1713.6L296.9 1715.2L297.4 1716.3L297.9 1715.0L298.4 1715.4L298.9 1715.1L299.4 1713.3L299.9 1717.4L300.4 1716.9L300.9 1717.0L301.4 1716.7L301.9 1716.4L302.4 1718.4L302.9 1715.2L303.4 1715.6L303.9 1715.7L304.4 1716.0L304.9 1717.0L305.4 1716.0L305.9 1715.2L306.4 1715.1L306.9 1716.7L307.4 1717.7L307.9 1718.0L308.4 1718.9L308.9 1717.2L309.4 1718.2L309.9 1718.2L310.4 1717.5L310.9 1716.7L311.4 1718.1L311.9 1717.1L312.4 1717.2L312.9 1716.6L313.4 1719.0L313.9 1718.2L314.4 1717.6L314.9 1717.6L315.4 1717.7L315.9 1718.1L316.4 1716.5L316.9 1716.6L317.4 1718.2L317.9 1719.4L318.4 1717.9L318.9 1718.5L319.4 1718.1L319.9 1716.4L320.4 1717.7L320.9 1717.5L321.4 1719.3L321.9 1719.0L322.4 1719.1L322.9 1717.8L323.4 1718.9L323.9 1717.4L324.4 1719.0L324.9 1720.7L325.4 1718.9L325.9 1720.3L326.4 1721.4L326.9 1720.3L327.4 1721.2L327.9 1720.6L328.4 1719.9L328.9 1718.3L329.4 1718.6L329.9 1718.4L330.4 1722.1L330.9 1721.4L331.4 1720.9L331.9 1719.6L332.4 1722.1L332.9 1720.3L333.4 1722.3L333.9 1722.7L334.4 1721.9L334.9 1721.0L335.4 1721.3L335.9 1720.3L336.4 1721.9L336.9 1723.5L337.4 1723.3L337.9 1723.5L338.4 1721.9L338.9 1722.4L339.4 1721.4L339.9 1721.6L340.4 1722.9L340.9 1725.1L341.4 1723.6L341.9 1723.1L342.4 1721.2L342.9 1722.5L343.4 1722.0L343.9 1721.5L344.4 1721.2L344.9 1722.8L345.4 1722.9L345.9 1724.0L346.4 1723.6L346.9 1723.7L347.4 1725.2L347.9 1725.2L348.4 1725.2L348.9 1725.9L349.4 1725.0L349.9 1723.6L350.4 1723.4L350.9 1722.6L351.4 1724.3L351.9 1724.2L352.4 1725.1L352.9 1725.7L353.4 1724.5L353.9 1725.0L354.4 1726.3L354.9 1725.7L355.4 1726.3L355.9 1725.5L356.4 1724.6L356.9 1725.0L357.4 1723.6L357.9 1725.7L358.4 1725.3L358.9 1727.0L359.4 1725.1L359.9 1725.8L360.4 1726.3L360.9 1726.1L361.4 1726.6L361.9 1725.7L362.4 1725.1L362.9 1724.6L363.4 1725.3L363.9 1725.4L364.4 1726.4L364.9 1726.2L365.4 1725.9L365.9 1725.8L366.4 1724.6L366.9 1725.7L367.4 1726.8L367.9 1725.6L368.4 1726.2L368.9 1727.3L369.4 1726.3L369.9 1726.8L370.4 1726.4L370.9 1729.0L371.4 1728.8L371.9 1728.5L372.4 1726.5L372.9 1727.0L373.4 1726.3L373.9 1726.4L374.4 1725.4L374.9 1725.6L375.4 1724.6L375.9 1725.1L376.4 1726.4L376.9 1723.7L377.4 1722.5L377.9 1723.5L378.4 1723.8L378.9 1722.4L379.4 1722.5L379.9 1722.0L380.4 1721.5L380.9 1721.6L381.4 1719.2L381.9 1719.1L382.4 1718.1L382.9 1716.3L383.4 1716.3L383.9 1713.9L384.4 1712.3L384.9 1713.5L385.4 1711.2L385.9 1712.5L386.4 1711.7L386.9 1709.2L387.4 1707.4L387.9 1704.8L388.4 1705.4L388.9 1703.5L389.4 1705.4L389.9 1702.4L390.4 1702.5L390.9 1699.4L391.4 1700.2L391.9 1701.8L392.4 1700.3L392.9 1699.2L393.4 1698.9L393.9 1699.5L394.4 1700.2L394.9 1699.3L395.4 1697.3L395.9 1699.0L396.4 1700.4L396.9 1702.4L397.4 1701.4L397.9 1701.4L398.4 1701.1L398.9 1702.7L399.4 1704.8L399.9 1703.4L400.4 1704.6L400.9 1704.5L401.4 1705.5L401.9 1707.1L402.4 1709.0L402.9 1709.1L403.4 1710.4L403.9 1713.2L404.4 1714.1L404.9 1715.4L405.4 1716.3L405.9 1716.8L406.4 1718.3L406.9 1719.6L407.4 1720.3L407.9 1722.2L408.4 1722.5L408.9 1724.1L409.4 1724.4L409.9 1725.8L410.4 1725.4L410.9 1726.0L411.4 1726.1L411.9 1728.8L412.4 1729.6L412.9 1730.0L413.4 1730.9L413.9 1730.2L414.4 1731.2L414.9 1731.2L415.4 1730.2L415.9 1731.7L416.4 1731.9L416.9 1734.4L417.4 1733.4L417.9 1733.4L418.4 1735.1L418.9 1735.0L419.4 1733.8L419.9 1735.0L420.4 1734.7L420.9 1737.1L421.4 1735.4L421.9 1735.2L422.4 1733.3L422.9 1734.8L423.4 1737.9L423.9 1737.1L424.4 1736.2L424.9 1737.1L425.4 1737.0L425.9 1737.3L426.4 1740.0L426.9 1740.5L427.4 1740.4L427.9 1740.5L428.4 1738.1L428.9 1736.4L429.4 1738.5L429.9 1738.9L430.4 1738.9L430.9 1738.7L431.4 1739.6L431.9 1739.8L432.4 1739.7L432.9 1740.0L433.4 1739.5L433.9 1739.2L434.4 1740.9L434.9 1740.0L435.4 1741.9L435.9 1741.4L436.4 1740.7L436.9 1741.6L437.4 1740.4L437.9 1740.3L438.4 1740.2L438.9 1740.6L439.4 1741.5L439.9 1743.2L440.4 1742.4L440.9 1740.6L441.4 1740.3L441.9 1739.3L442.4 1741.5L442.9 1742.5L443.4 1742.4L443.9 1742.4L444.4 1742.7L444.9 1742.8L445.4 1743.1L445.9 1742.8L446.4 1741.6L446.9 1743.1L447.4 1744.1L447.9 1741.6L448.4 1742.2L448.9 1741.6L449.4 1743.0L449.9 1742.8L450.4 1744.4L450.9 1744.8L451.4 1743.4L451.9 1743.0L452.4 1742.8L452.9 1743.9L453.4 1742.8L453.9 1743.8L454.4 1742.5L454.9 1744.4L455.4 1744.6L455.9 1743.1L456.4 1742.9L456.9 1743.8L457.4 1744.3L457.9 1741.5L458.4 1743.5L458.9 1745.5L459.4 1744.3L459.9 1743.0L460.4 1745.1L460.9 1744.9L461.4 1744.8L461.9 1745.2L462.4 1743.5L462.9 1743.5L463.4 1743.1L463.9 1742.9L464.4 1743.6L464.9 1743.2L465.4 1745.6L465.9 1745.4L466.4 1745.6L466.9 1743.2L467.4 1743.8L467.9 1744.0L468.4 1744.4L468.9 1744.8L469.4 1743.7L469.9 1743.1L470.4 1744.7L470.9 1746.5L471.4 1746.9L471.9 1744.7L472.4 1743.4L472.9 1743.8L473.4 1744.2L473.9 1745.5L474.4 1743.9L474.9 1742.8L475.4 1744.1L475.9 1742.7L476.4 1742.0L476.9 1743.0L477.4 1742.6L477.9 1741.5L478.4 1741.7L478.9 1741.6L479.4 1741.6L479.9 1740.9L480.4 1741.9L480.9 1741.1L481.4 1740.5L481.9 1741.7L482.4 1740.0L482.9 1740.9L483.4 1740.9L483.9 1739.8L484.4 1739.7L484.9 1737.9L485.4 1738.7L485.9 1737.5L486.4 1737.0L486.9 1737.7L487.4 1736.7L487.9 1736.9L488.4 1737.0L488.9 1737.4L489.4 1736.6L489.9 1736.6L490.4 1734.6L490.9 1733.9L491.4 1734.3L491.9 1734.6L492.4 1733.7L492.9 1732.0L493.4 1730.5L493.9 1729.7L494.4 1731.0L494.9 1728.9L495.4 1728.5L495.9 1728.7L496.4 1728.1L496.9 1726.2L497.4 1727.6L497.9 1725.8L498.4 1724.7L498.9 1724.2L499.4 1722.3L499.9 1721.9L500.4 1720.3L500.9 1718.2L501.4 1716.7L501.9 1716.7L502.4 1715.5L502.9 1714.0L503.4 1712.3L503.9 1710.9L504.4 1710.4L504.9 1709.5L505.4 1706.7L505.9 1705.1L506.4 1701.3L506.9 1699.3L507.4 1697.7L507.9 1695.5L508.4 1694.7L508.9 1690.2L509.4 1689.4L509.9 1687.5L510.4 1686.4L510.9 1681.4L511.4 1678.5L511.9 1676.2L512.4 1672.5L512.9 1666.8L513.4 1662.7L513.9 1657.6L514.4 1653.9L514.9 1649.9L515.4 1645.6L515.9 1639.6L516.4 1633.7L516.9 1627.4L517.4 1618.7L517.9 1612.0L518.4 1604.3L518.9 1594.4L519.4 1583.6L519.9 1573.5L520.4 1561.9L520.9 1549.5L521.4 1532.9L521.9 1517.5L522.4 1502.2L522.9 1482.8L523.4 1459.8L523.9 1435.4L524.4 1409.1L524.9 1380.1L525.4 1349.9L525.9 1318.2L526.4 1283.6L526.9 1250.0L527.4 1216.3L527.9 1181.8L528.4 1151.2L528.9 1122.8L529.4 1101.2L529.9 1084.9L530.4 1074.1L530.9 1071.5L531.4 1076.5L531.9 1088.4L532.4 1104.7L532.9 1128.8L533.4 1156.1L533.9 1186.8L534.4 1222.9L534.9 1257.9L535.4 1292.9L535.9 1326.1L536.4 1356.8L536.9 1387.1L537.4 1414.4L537.9 1441.7L538.4 1462.1L538.9 1485.0L539.4 1504.0L539.9 1522.5L540.4 1539.1L540.9 1551.8L541.4 1566.0L541.9 1577.9L542.4 1586.0L542.9 1598.1L543.4 1604.9L543.9 1612.1L544.4 1621.5L544.9 1627.4L545.4 1634.4L545.9 1640.3L546.4 1644.9L546.9 1652.2L547.4 1657.7L547.9 1661.1L548.4 1666.4L548.9 1669.2L549.4 1672.7L549.9 1675.7L550.4 1677.8L550.9 1681.4L551.4 1683.9L551.9 1687.8L552.4 1690.6L552.9 1692.4L553.4 1696.3L553.9 1698.2L554.4 1701.5L554.9 1701.8L555.4 1703.1L555.9 1704.3L556.4 1706.7L556.9 1708.2L557.4 1709.8L557.9 1713.0L558.4 1714.0L558.9 1713.8L559.4 1715.5L559.9 1716.2L560.4 1717.1L560.9 1718.1L561.4 1719.4L561.9 1721.0L562.4 1722.5L562.9 1722.6L563.4 1722.3L563.9 1723.5L564.4 1724.2L564.9 1724.8L565.4 1724.5L565.9 1725.9L566.4 1725.1L566.9 1728.1L567.4 1729.0L567.9 1729.7L568.4 1728.6L568.9 1729.7L569.4 1731.3L569.9 1730.7L570.4 1729.9L570.9 1730.8L571.4 1729.3L571.9 1732.0L572.4 1732.7L572.9 1731.4L573.4 1733.1L573.9 1734.3L574.4 1734.4L574.9 1734.6L575.4 1735.6L575.9 1734.9L576.4 1735.9L576.9 1734.8L577.4 1734.1L577.9 1734.3L578.4 1733.7L578.9 1735.0L579.4 1734.5L579.9 1735.4L580.4 1735.7L580.9 1737.2L581.4 1737.8L581.9 1735.9L582.4 1735.7L582.9 1735.6L583.4 1735.2L583.9 1737.4L584.4 1737.6L584.9 1736.4L585.4 1734.8L585.9 1735.0L586.4 1735.7L586.9 1737.4L587.4 1735.3L587.9 1737.2L588.4 1735.0L588.9 1736.0L589.4 1734.9L589.9 1735.2L590.4 1733.4L590.9 1735.6L591.4 1735.7L591.9 1734.8L592.4 1733.3L592.9 1734.8L593.4 1735.2L593.9 1734.0L594.4 1735.4L594.9 1735.2L595.4 1734.1L595.9 1734.0L596.4 1732.3L596.9 1734.7L597.4 1735.7L597.9 1734.9L598.4 1733.5L598.9 1733.0L599.4 1733.6L599.9 1733.1L600.4 1734.0L600.9 1733.1L601.4 1734.3L601.9 1735.0L602.4 1733.4L602.9 1732.5L603.4 1730.0L603.9 1731.9L604.4 1732.7L604.9 1731.6L605.4 1733.0L605.9 1731.7L606.4 1730.6L606.9 1731.9L607.4 1731.9L607.9 1729.3L608.4 1729.5L608.9 1728.8L609.4 1729.4L609.9 1729.7L610.4 1729.0L610.9 1729.1L611.4 1729.6L611.9 1728.3L612.4 1726.7L612.9 1726.1L613.4 1727.4L613.9 1728.3L614.4 1726.5L614.9 1726.0L615.4 1724.4L615.9 1723.6L616.4 1724.4L616.9 1722.9L617.4 1722.5L617.9 1721.9L618.4 1722.1L618.9 1720.8L619.4 1719.5L619.9 1718.2L620.4 1716.9L620.9 1717.3L621.4 1717.8L621.9 1713.7L622.4 1713.9L622.9 1711.3L623.4 1709.8L623.9 1708.7L624.4 1707.2L624.9 1705.7L625.4 1703.9L625.9 1704.4L626.4 1700.3L626.9 1698.3L627.4 1696.1L627.9 1694.9L628.4 1691.5L628.9 1689.9L629.4 1687.8L629.9 1687.0L630.4 1683.5L630.9 1679.7L631.4 1676.3L631.9 1674.6L632.4 1669.8L632.9 1665.1L633.4 1660.9L633.9 1656.9L634.4 1653.9L634.9 1648.0L635.4 1643.3L635.9 1638.8L636.4 1633.0L636.9 1629.0L637.4 1622.9L637.9 1617.7L638.4 1612.0L638.9 1606.7L639.4 1600.7L639.9 1591.6L640.4 1583.4L640.9 1575.9L641.4 1570.0L641.9 1563.6L642.4 1556.7L642.9 1551.0L643.4 1548.2L643.9 1545.6L644.4 1544.4L644.9 1546.0L645.4 1547.5L645.9 1554.3L646.4 1562.1L646.9 1567.8L647.4 1574.3L647.9 1583.2L648.4 1589.5L648.9 1597.0L649.4 1604.6L649.9 1610.9L650.4 1618.1L650.9 1622.1L651.4 1626.9L651.9 1635.2L652.4 1641.6L652.9 1646.9L653.4 1651.5L653.9 1656.7L654.4 1661.9L654.9 1665.1L655.4 1670.3L655.9 1673.8L656.4 1680.2L656.9 1683.3L657.4 1686.5L657.9 1690.5L658.4 1693.9L658.9 1697.1L659.4 1698.6L659.9 1701.6L660.4 1705.1L660.9 1707.2L661.4 1709.4L661.9 1711.0L662.4 1713.6L662.9 1717.0L663.4 1717.0L663.9 1718.0L664.4 1719.7L664.9 1721.0L665.4 1725.1L665.9 1728.1L666.4 1728.8L666.9 1729.6L667.4 1731.9L667.9 1733.2L668.4 1731.3L668.9 1733.4L669.4 1737.3L669.9 1736.6L670.4 1736.7L670.9 1737.5L671.4 1740.4L671.9 1740.1L672.4 1741.3L672.9 1743.0L673.4 1743.1L673.9 1743.5L674.4 1743.1L674.9 1743.2L675.4 1745.8L675.9 1744.9L676.4 1747.2L676.9 1748.5L677.4 1749.6L677.9 1748.7L678.4 1748.1L678.9 1749.0L679.4 1750.8L679.9 1751.0L680.4 1751.3L680.9 1751.0L681.4 1752.2L681.9 1750.1L682.4 1750.3L682.9 1753.2L683.4 1753.4L683.9 1753.8L684.4 1751.7L684.9 1752.2L685.4 1752.9L685.9 1753.6L686.4 1755.2L686.9 1754.2L687.4 1754.7L687.9 1754.2L688.4 1754.6L688.9 1755.4L689.4 1755.8L689.9 1756.6L690.4 1754.9L690.9 1756.3L691.4 1756.5L691.9 1755.5L692.4 1757.2L692.9 1756.0L693.4 1755.9L693.9 1756.8L694.4 1758.0L694.9 1756.7L695.4 1758.1L695.9 1757.6L696.4 1756.4L696.9 1757.4L697.4 1757.1L697.9 1756.3L698.4 1756.6L698.9 1758.0L699.4 1757.7L699.9 1757.0L700.4 1757.8L700.9 1756.0L701.4 1757.3L701.9 1758.4L702.4 1756.4L702.9 1755.7L703.4 1755.7L703.9 1756.3L704.4 1756.0L704.9 1756.6L705.4 1755.8L705.9 1756.7L706.4 1757.3L706.9 1757.3L707.4 1756.4L707.9 1757.3L708.4 1755.4L708.9 1755.5L709.4 1756.0L709.9 1757.4L710.4 1756.3L710.9 1756.8L711.4 1757.9L711.9 1758.5L712.4 1758.5L712.9 1756.0L713.4 1756.1L713.9 1756.3L714.4 1756.4L714.9 1756.3L715.4 1755.5L715.9 1755.4L716.4 1753.9L716.9 1755.3L717.4 1755.3L717.9 1754.4L718.4 1756.2L718.9 1755.1L719.4 1753.9L719.9 1754.6L720.4 1754.6L720.9 1754.7L721.4 1753.9L721.9 1754.3L722.4 1753.8L722.9 1754.5L723.4 1753.7L723.9 1752.3L724.4 1751.4L724.9 1752.5L725.4 1753.0L725.9 1750.8L726.4 1751.8L726.9 1751.4L727.4 1751.4L727.9 1750.1L728.4 1749.2L728.9 1749.2L729.4 1748.8L729.9 1748.7L730.4 1749.0L730.9 1748.8L731.4 1750.2L731.9 1747.7L732.4 1747.1L732.9 1747.1L733.4 1747.2L733.9 1745.5L734.4 1744.1L734.9 1744.9L735.4 1745.0L735.9 1744.9L736.4 1744.5L736.9 1742.0L737.4 1743.2L737.9 1742.2L738.4 1743.5L738.9 1741.3L739.4 1738.5L739.9 1739.2L740.4 1739.3L740.9 1739.2L741.4 1738.8L741.9 1737.7L742.4 1736.0L742.9 1736.6L743.4 1736.5L743.9 1736.0L744.4 1736.4L744.9 1736.1L745.4 1734.4L745.9 1735.0L746.4 1735.2L746.9 1736.0L747.4 1738.1L747.9 1737.5L748.4 1738.1L748.9 1736.1L749.4 1738.8L749.9 1738.4L750.4 1739.7L750.9 1739.0L751.4 1740.1L751.9 1741.7L752.4 1741.9L752.9 1742.6L753.4 1742.4L753.9 1742.8L754.4 1744.2L754.9 1744.8L755.4 1745.7L755.9 1745.7L756.4 1746.3L756.9 1748.0L757.4 1749.6L757.9 1748.9L758.4 1748.8L758.9 1749.8L759.4 1751.2L759.9 1751.5L760.4 1752.6L760.9 1752.2L761.4 1751.6L761.9 1750.8L762.4 1753.4L762.9 1754.0L763.4 1753.6L763.9 1754.6L764.4 1753.8L764.9 1755.8L765.4 1756.7L765.9 1757.4L766.4 1756.3L766.9 1757.8L767.4 1758.0L767.9 1759.0L768.4 1756.4L768.9 1758.1L769.4 1759.2L769.9 1758.2L770.4 1759.2L770.9 1758.9L771.4 1760.2L771.9 1759.2L772.4 1759.2L772.9 1758.2L773.4 1760.9L773.9 1759.3L774.4 1758.6L774.9 1758.6L775.4 1759.6L775.9 1760.0L776.4 1760.6L776.9 1761.9L777.4 1761.9L777.9 1759.7L778.4 1760.6L778.9 1760.6L779.4 1761.5L779.9 1761.3L780.4 1762.4L780.9 1761.7L781.4 1763.3L781.9 1761.1L782.4 1762.4L782.9 1762.7L783.4 1761.3L783.9 1760.2L784.4 1760.6L784.9 1761.7L785.4 1763.3L785.9 1761.0L786.4 1761.3L786.9 1760.5L787.4 1762.2L787.9 1762.2L788.4 1762.1L788.9 1762.7L789.4 1762.6L789.9 1763.6L790.4 1762.4L790.9 1761.7L791.4 1762.0L791.9 1762.1L792.4 1763.4L792.9 1762.3L793.4 1761.8L793.9 1761.4L794.4 1761.3L794.9 1760.1L795.4 1761.6L795.9 1762.5L796.4 1762.5L796.9 1761.6L797.4 1762.9L797.9 1763.2L798.4 1762.8L798.9 1763.1L799.4 1762.4L799.9 1762.7L800.4 1762.9L800.9 1761.3L801.4 1761.4L801.9 1761.3L802.4 1762.2L802.9 1759.8L803.4 1761.6L803.9 1761.9L804.4 1761.9L804.9 1762.4L805.4 1760.8L805.9 1761.8L806.4 1761.2L806.9 1761.1L807.4 1762.9L807.9 1761.9L808.4 1762.8L808.9 1762.1L809.4 1761.6L809.9 1761.3L810.4 1760.2L810.9 1760.8L811.4 1761.4L811.9 1762.7L812.4 1762.6L812.9 1762.5L813.4 1760.8L813.9 1760.3L814.4 1761.2L814.9 1761.5L815.4 1760.1L815.9 1761.5L816.4 1760.4L816.9 1760.8L817.4 1760.1L817.9 1761.0L818.4 1761.3L818.9 1761.5L819.4 1759.7L819.9 1759.9L820.4 1761.9L820.9 1760.4L821.4 1760.2L821.9 1759.7L822.4 1758.8L822.9 1760.5L823.4 1760.8L823.9 1758.7L824.4 1759.0L824.9 1760.2L825.4 1759.2L825.9 1758.3L826.4 1758.7L826.9 1758.5L827.4 1756.4L827.9 1755.9L828.4 1757.8L828.9 1756.3L829.4 1756.1L829.9 1755.2L830.4 1757.1L830.9 1754.7L831.4 1755.0L831.9 1754.3L832.4 1754.0L832.9 1752.8L833.4 1752.6L833.9 1752.9L834.4 1753.2L834.9 1751.1L835.4 1752.0L835.9 1751.2L836.4 1751.5L836.9 1751.0L837.4 1751.0L837.9 1750.7L838.4 1751.0L838.9 1750.6L839.4 1748.7L839.9 1747.2L840.4 1747.4L840.9 1749.0L841.4 1747.6L841.9 1747.6L842.4 1750.2L842.9 1749.0L843.4 1748.7L843.9 1749.0L844.4 1749.4L844.9 1748.5L845.4 1748.7L845.9 1746.9L846.4 1748.5L846.9 1749.4L847.4 1747.6L847.9 1749.6L848.4 1751.3L848.9 1747.9L849.4 1749.1L849.9 1751.2L850.4 1751.4L850.9 1750.4L851.4 1750.3L851.9 1750.7L852.4 1752.0L852.9 1751.3L853.4 1750.6L853.9 1752.1L854.4 1752.0L854.9 1754.6L855.4 1753.1L855.9 1754.1L856.4 1754.1L856.9 1753.2L857.4 1754.0L857.9 1753.1L858.4 1755.3L858.9 1755.0L859.4 1754.8L859.9 1754.6L860.4 1757.6L860.9 1757.9L861.4 1756.8L861.9 1757.4L862.4 1758.6L862.9 1759.1L863.4 1758.9L863.9 1757.0L864.4 1760.1L864.9 1759.6L865.4 1761.0L865.9 1759.1L866.4 1760.6L866.9 1761.7L867.4 1762.1L867.9 1760.1L868.4 1760.5L868.9 1762.4L869.4 1761.0L869.9 1762.0L870.4 1761.6L870.9 1760.4L871.4 1762.4L871.9 1763.3L872.4 1763.3L872.9 1763.0L873.4 1763.7L873.9 1761.2L874.4 1762.3L874.9 1764.4L875.4 1764.0L875.9 1764.5L876.4 1763.5L876.9 1763.8L877.4 1762.6L877.9 1763.8L878.4 1764.0L878.9 1763.6L879.4 1763.8L879.9 1764.1L880.4 1764.3L880.9 1765.0L881.4 1765.5L881.9 1762.8L882.4 1764.1L882.9 1765.5L883.4 1763.9L883.9 1764.3L884.4 1766.9L884.9 1765.0L885.4 1765.9L885.9 1765.6L886.4 1763.9L886.9 1764.5L887.4 1763.3L887.9 1764.3L888.4 1765.9L888.9 1766.2L889.4 1766.0L889.9 1765.2L890.4 1766.1L890.9 1767.0L891.4 1767.0L891.9 1767.2L892.4 1766.8L892.9 1766.7L893.4 1765.4L893.9 1767.3L894.4 1765.6L894.9 1765.2L895.4 1765.2L895.9 1765.3L896.4 1767.3L896.9 1766.6L897.4 1766.3L897.9 1766.2L898.4 1766.5L898.9 1767.9L899.4 1768.6L899.9 1767.1L900.4 1768.6L900.9 1768.1L901.4 1767.7L901.9 1768.6L902.4 1767.8L902.9 1767.8L903.4 1767.6L903.9 1766.4L904.4 1765.9L904.9 1766.1L905.4 1766.3L905.9 1766.6L906.4 1766.9L906.9 1768.5L907.4 1768.1L907.9 1768.8L908.4 1768.6L908.9 1767.5L909.4 1767.7L909.9 1766.6L910.4 1766.1L910.9 1767.9L911.4 1768.2L911.9 1768.5L912.4 1769.5L912.9 1767.7L913.4 1768.2L913.9 1766.5L914.4 1767.2L914.9 1768.9L915.4 1767.5L915.9 1767.3L916.4 1768.2L916.9 1770.4L917.4 1770.4L917.9 1769.5L918.4 1770.0L918.9 1769.7L919.4 1769.2L919.9 1768.9L920.4 1769.8L920.9 1769.6L921.4 1770.4L921.9 1769.4L922.4 1770.5L922.9 1769.7L923.4 1770.9L923.9 1771.2L924.4 1769.8L924.9 1772.1L925.4 1771.2L925.9 1769.9L926.4 1768.9L926.9 1769.9L927.4 1770.3L927.9 1769.6L928.4 1769.1L928.9 1769.5L929.4 1769.1L929.9 1769.4L930.4 1769.3L930.9 1770.5L931.4 1768.1L931.9 1771.6L932.4 1770.5L932.9 1770.5L933.4 1769.4L933.9 1771.2L934.4 1770.7L934.9 1770.4L935.4 1769.7L935.9 1770.9L936.4 1771.2L936.9 1770.3L937.4 1772.1L937.9 1770.3L938.4 1771.7L938.9 1771.2L939.4 1769.6L939.9 1770.0L940.4 1770.9L940.9 1770.4L941.4 1770.6L941.9 1770.5L942.4 1770.9L942.9 1770.1L943.4 1772.1L943.9 1771.3L944.4 1772.1L944.9 1770.8L945.4 1770.7L945.9 1769.5L946.4 1770.0L946.9 1771.5L947.4 1770.9L947.9 1769.7L948.4 1769.4L948.9 1770.3L949.4 1769.8L949.9 1771.7L950.4 1770.6L950.9 1770.0L951.4 1770.4L951.9 1771.3L952.4 1768.6L952.9 1768.3L953.4 1768.2L953.9 1766.9L954.4 1768.0L954.9 1768.4L955.4 1769.4L955.9 1769.5L956.4 1769.4L956.9 1769.3L957.4 1768.2L957.9 1770.8L958.4 1770.3L958.9 1768.4L959.4 1767.1L959.9 1767.8L960.4 1768.5L960.9 1768.1L961.4 1768.2L961.9 1768.3L962.4 1767.7L962.9 1766.1L963.4 1765.8L963.9 1764.4L964.4 1766.4L964.9 1765.6L965.4 1765.9L965.9 1767.7L966.4 1765.4L966.9 1765.3L967.4 1764.4L967.9 1762.9L968.4 1765.0L968.9 1764.5L969.4 1764.3L969.9 1764.9L970.4 1764.0L970.9 1764.4L971.4 1765.0L971.9 1763.2L972.4 1763.5L972.9 1763.2L973.4 1763.8L973.9 1765.2L974.4 1762.3L974.9 1763.5L975.4 1762.5L975.9 1762.5L976.4 1762.1L976.9 1761.3L977.4 1759.9L977.9 1760.4L978.4 1759.5L978.9 1761.3L979.4 1760.8L979.9 1759.5L980.4 1759.1L980.9 1760.2L981.4 1758.0L981.9 1758.6L982.4 1758.6L982.9 1757.5L983.4 1758.7L983.9 1757.6L984.4 1758.4L984.9 1757.7L985.4 1756.5L985.9 1756.4L986.4 1757.2L986.9 1755.5L987.4 1754.8L987.9 1755.1L988.4 1755.6L988.9 1755.6L989.4 1753.9L989.9 1752.9L990.4 1753.4L990.9 1753.2L991.4 1753.4L991.9 1751.5L992.4 1751.6L992.9 1750.8L993.4 1752.8L993.9 1749.8L994.4 1749.6L994.9 1749.6L995.4 1748.1L995.9 1748.6L996.4 1748.1L996.9 1746.9L997.4 1747.1L997.9 1748.5L998.4 1747.5L998.9 1747.9L999.4 1747.6L999.9 1745.9L1000.4 1744.5L1000.9 1741.7L1001.4 1740.3L1001.9 1741.3L1002.4 1740.9L1002.9 1740.1L1003.4 1738.2L1003.9 1737.2L1004.4 1735.2L1004.9 1735.4L1005.4 1733.7L1005.9 1730.0L1006.4 1728.8L1006.9 1728.7L1007.4 1725.1L1007.9 1722.3L1008.4 1719.7L1008.9 1717.4L1009.4 1715.2L1009.9 1712.1L1010.4 1709.1L1010.9 1704.9L1011.4 1702.1L1011.9 1699.1L1012.4 1693.2L1012.9 1689.2L1013.4 1684.8L1013.9 1680.0L1014.4 1674.8L1014.9 1670.2L1015.4 1664.7L1015.9 1659.0L1016.4 1653.7L1016.9 1650.2L1017.4 1644.8L1017.9 1639.1L1018.4 1635.9L1018.9 1632.8L1019.4 1631.3L1019.9 1629.8L1020.4 1626.7L1020.9 1627.6L1021.4 1627.5L1021.9 1629.5L1022.4 1629.7L1022.9 1632.6L1023.4 1636.0L1023.9 1640.5L1024.4 1642.2L1024.9 1647.0L1025.4 1652.1L1025.9 1656.8L1026.4 1661.2L1026.9 1666.6L1027.4 1672.1L1027.9 1679.0L1028.4 1682.7L1028.9 1688.0L1029.4 1691.3L1029.9 1695.9L1030.4 1699.9L1030.9 1703.9L1031.4 1706.2L1031.9 1710.5L1032.4 1716.5L1032.9 1718.1L1033.4 1719.2L1033.9 1724.5L1034.4 1726.2L1034.9 1728.1L1035.4 1728.3L1035.9 1730.7L1036.4 1732.7L1036.9 1734.5L1037.4 1735.2L1037.9 1737.9L1038.4 1737.7L1038.9 1740.7L1039.4 1741.3L1039.9 1741.7L1040.4 1741.4L1040.9 1743.6L1041.4 1744.8L1041.9 1744.0L1042.4 1747.0L1042.9 1746.7L1043.4 1745.8L1043.9 1748.3L1044.4 1747.4L1044.9 1747.5L1045.4 1747.4L1045.9 1748.0L1046.4 1749.1L1046.9 1749.0L1047.4 1750.4L1047.9 1749.9L1048.4 1750.8L1048.9 1749.3L1049.4 1750.6L1049.9 1751.6L1050.4 1752.8L1050.9 1752.5L1051.4 1752.9L1051.9 1753.5L1052.4 1752.7L1052.9 1753.8L1053.4 1754.2L1053.9 1753.6L1054.4 1752.9L1054.9 1755.1L1055.4 1755.8L1055.9 1755.3L1056.4 1756.1L1056.9 1756.8L1057.4 1755.7L1057.9 1756.0L1058.4 1756.3L1058.9 1756.3L1059.4 1755.9L1059.9 1755.5L1060.4 1756.6L1060.9 1756.5L1061.4 1757.9L1061.9 1757.4L1062.4 1756.9L1062.9 1755.6L1063.4 1756.2L1063.9 1756.8L1064.4 1756.7L1064.9 1756.2L1065.4 1754.1L1065.9 1755.2L1066.4 1756.6L1066.9 1758.5L1067.4 1756.7L1067.9 1757.6L1068.4 1756.3L1068.9 1758.0L1069.4 1757.5L1069.9 1757.6L1070.4 1758.0L1070.9 1757.2L1071.4 1757.0L1071.9 1758.5L1072.4 1756.8L1072.9 1756.7L1073.4 1758.2L1073.9 1758.8L1074.4 1757.6L1074.9 1757.2L1075.4 1757.9L1075.9 1759.8L1076.4 1760.1L1076.9 1758.6L1077.4 1757.8L1077.9 1758.0L1078.4 1756.6L1078.9 1757.9L1079.4 1757.8L1079.9 1759.1L1080.4 1757.9L1080.9 1758.5L1081.4 1757.8L1081.9 1757.7L1082.4 1759.8L1082.9 1758.0L1083.4 1758.2L1083.9 1758.7L1084.4 1760.2L1084.9 1759.3L1085.4 1758.3L1085.9 1758.6L1086.4 1760.0L1086.9 1759.4L1087.4 1759.3L1087.9 1760.7L1088.4 1758.3L1088.9 1759.3L1089.4 1757.8L1089.9 1759.2L1090.4 1759.0L1090.9 1759.0L1091.4 1758.6L1091.9 1758.5L1092.4 1755.4L1092.9 1755.9L1093.4 1759.1L1093.9 1758.3L1094.4 1757.8L1094.9 1758.2L1095.4 1758.6L1095.9 1758.0L1096.4 1758.5L1096.9 1758.3L1097.4 1757.0L1097.9 1757.1L1098.4 1757.9L1098.9 1756.3L1099.4 1756.6L1099.9 1755.8L1100.4 1755.9L1100.9 1754.7L1101.4 1755.7L1101.9 1755.3L1102.4 1756.6L1102.9 1755.7L1103.4 1757.5L1103.9 1757.2L1104.4 1755.4L1104.9 1757.3L1105.4 1756.1L1105.9 1755.9L1106.4 1754.3L1106.9 1754.9L1107.4 1754.6L1107.9 1754.0L1108.4 1754.0L1108.9 1756.3L1109.4 1755.5L1109.9 1755.8L1110.4 1755.3L1110.9 1755.6L1111.4 1755.7L1111.9 1756.2L1112.4 1756.7L1112.9 1757.7L1113.4 1757.4L1113.9 1757.3L1114.4 1756.7L1114.9 1758.0L1115.4 1758.4L1115.9 1757.9L1116.4 1756.5L1116.9 1757.7L1117.4 1756.3L1117.9 1759.3L1118.4 1759.0L1118.9 1760.2L1119.4 1759.3L1119.9 1760.0L1120.4 1761.1L1120.9 1760.8L1121.4 1759.0L1121.9 1758.0L1122.4 1758.6L1122.9 1759.5L1123.4 1758.7L1123.9 1757.7L1124.4 1758.6L1124.9 1759.4L1125.4 1758.1L1125.9 1759.3L1126.4 1760.6L1126.9 1759.3L1127.4 1760.1L1127.9 1760.2L1128.4 1760.6L1128.9 1760.8L1129.4 1759.7L1129.9 1760.8L1130.4 1762.6L1130.9 1761.7L1131.4 1759.7L1131.9 1760.1L1132.4 1762.3L1132.9 1761.1L1133.4 1761.1L1133.9 1759.7L1134.4 1759.0L1134.9 1760.2L1135.4 1761.0L1135.9 1760.3L1136.4 1761.1L1136.9 1760.7L1137.4 1759.0L1137.9 1760.0L1138.4 1761.2L1138.9 1763.2L1139.4 1760.5L1139.9 1761.2L1140.4 1761.5L1140.9 1761.6L1141.4 1761.4L1141.9 1762.7L1142.4 1762.8L1142.9 1761.1L1143.4 1760.3L1143.9 1760.9L1144.4 1759.7L1144.9 1760.7L1145.4 1761.7L1145.9 1760.8L1146.4 1760.7L1146.9 1760.3L1147.4 1760.9L1147.9 1761.5L1148.4 1760.2L1148.9 1761.6L1149.4 1760.3L1149.9 1760.8L1150.4 1761.2L1150.9 1760.1L1151.4 1760.3L1151.9 1759.7L1152.4 1761.4L1152.9 1760.9L1153.4 1759.4L1153.9 1761.0L1154.4 1760.4L1154.9 1762.3L1155.4 1761.1L1155.9 1761.4L1156.4 1759.8L1156.9 1760.0L1157.4 1760.2L1157.9 1761.1L1158.4 1761.9L1158.9 1761.0L1159.4 1760.4L1159.9 1759.4L1160.4 1759.3L1160.9 1759.7L1161.4 1760.9L1161.9 1762.0L1162.4 1760.4L1162.9 1759.5L1163.4 1758.8L1163.9 1760.2L1164.4 1761.2L1164.9 1760.8L1165.4 1761.6L1165.9 1760.3L1166.4 1759.4L1166.9 1759.6L1167.4 1758.3L1167.9 1758.8L1168.4 1758.5L1168.9 1757.2L1169.4 1758.5L1169.9 1759.4L1170.4 1760.4L1170.9 1759.3L1171.4 1760.1L1171.9 1758.5L1172.4 1759.8L1172.9 1758.4L1173.4 1758.4L1173.9 1757.3L1174.4 1759.7L1174.9 1758.5L1175.4 1759.5L1175.9 1758.6L1176.4 1758.6L1176.9 1759.0L1177.4 1757.3L1177.9 1758.2L1178.4 1757.7L1178.9 1756.9L1179.4 1758.6L1179.9 1757.9L1180.4 1759.0L1180.9 1758.3L1181.4 1757.5L1181.9 1757.0L1182.4 1757.4L1182.9 1756.8L1183.4 1758.1L1183.9 1757.1L1184.4 1758.5L1184.9 1757.3L1185.4 1757.2L1185.9 1756.5L1186.4 1759.0L1186.9 1755.8L1187.4 1757.3L1187.9 1758.1L1188.4 1758.4L1188.9 1759.0L1189.4 1759.0L1189.9 1755.9L1190.4 1756.5L1190.9 1755.7L1191.4 1756.0L1191.9 1756.1L1192.4 1757.3L1192.9 1757.5L1193.4 1756.7L1193.9 1755.7L1194.4 1756.4L1194.9 1756.3L1195.4 1755.8L1195.9 1756.8L1196.4 1757.6L1196.9 1755.8L1197.4 1757.1L1197.9 1755.3L1198.4 1755.3L1198.9 1754.2L1199.4 1755.6L1199.9 1757.3L1200.4 1755.2L1200.9 1754.9L1201.4 1754.4L1201.9 1755.3L1202.4 1756.5L1202.9 1754.5L1203.4 1755.9L1203.9 1757.5L1204.4 1755.9L1204.9 1755.6L1205.4 1756.0L1205.9 1753.8L1206.4 1753.9L1206.9 1755.3L1207.4 1755.3L1207.9 1755.9L1208.4 1754.5L1208.9 1754.8L1209.4 1754.3L1209.9 1753.7L1210.4 1755.2L1210.9 1756.7L1211.4 1754.7L1211.9 1755.2L1212.4 1755.6L1212.9 1756.4L1213.4 1754.7L1213.9 1753.3L1214.4 1754.7L1214.9 1753.9L1215.4 1753.2L1215.9 1753.8L1216.4 1754.2L1216.9 1754.5L1217.4 1754.2L1217.9 1752.3L1218.4 1751.5L1218.9 1753.6L1219.4 1755.2L1219.9 1754.9L1220.4 1753.2L1220.9 1754.5L1221.4 1753.1L1221.9 1754.7L1222.4 1754.2L1222.9 1754.5L1223.4 1752.9L1223.9 1753.7L1224.4 1751.4L1224.9 1753.6L1225.4 1751.9L1225.9 1752.3L1226.4 1753.3L1226.9 1753.6L1227.4 1752.8L1227.9 1750.8L1228.4 1752.7L1228.9 1751.7L1229.4 1750.2L1229.9 1752.3L1230.4 1754.0L1230.9 1751.6L1231.4 1752.0L1231.9 1751.9L1232.4 1751.1L1232.9 1750.9L1233.4 1750.3L1233.9 1747.7L1234.4 1747.8L1234.9 1747.9L1235.4 1747.3L1235.9 1747.8L1236.4 1747.6L1236.9 1748.0L1237.4 1749.3L1237.9 1746.7L1238.4 1747.0L1238.9 1747.7L1239.4 1746.0L1239.9 1743.6L1240.4 1743.9L1240.9 1744.9L1241.4 1744.3L1241.9 1741.8L1242.4 1742.2L1242.9 1741.6L1243.4 1740.7L1243.9 1741.2L1244.4 1737.7L1244.9 1739.9L1245.4 1740.6L1245.9 1738.2L1246.4 1736.4L1246.9 1734.8L1247.4 1735.5L1247.9 1734.3L1248.4 1732.0L1248.9 1730.6L1249.4 1732.0L1249.9 1732.3L1250.4 1729.6L1250.9 1730.7L1251.4 1728.6L1251.9 1727.8L1252.4 1725.7L1252.9 1726.3L1253.4 1724.5L1253.9 1723.3L1254.4 1722.4L1254.9 1720.1L1255.4 1720.4L1255.9 1718.5L1256.4 1715.8L1256.9 1713.2L1257.4 1712.3L1257.9 1710.4L1258.4 1708.0L1258.9 1704.5L1259.4 1703.7L1259.9 1700.3L1260.4 1697.7L1260.9 1694.1L1261.4 1689.6L1261.9 1684.9L1262.4 1679.9L1262.9 1677.5L1263.4 1672.7L1263.9 1669.6L1264.4 1665.8L1264.9 1660.9L1265.4 1656.2L1265.9 1653.1L1266.4 1650.6L1266.9 1646.3L1267.4 1644.1L1267.9 1643.3L1268.4 1640.1L1268.9 1640.5L1269.4 1640.3L1269.9 1641.8L1270.4 1644.0L1270.9 1645.4L1271.4 1648.6L1271.9 1653.2L1272.4 1656.6L1272.9 1660.5L1273.4 1664.4L1273.9 1668.8L1274.4 1674.3L1274.9 1678.1L1275.4 1682.2L1275.9 1686.4L1276.4 1690.9L1276.9 1695.6L1277.4 1699.5L1277.9 1703.0L1278.4 1708.7L1278.9 1709.5L1279.4 1712.8L1279.9 1716.1L1280.4 1718.1L1280.9 1720.4L1281.4 1721.1L1281.9 1723.9L1282.4 1726.7L1282.9 1727.2L1283.4 1729.6L1283.9 1731.8L1284.4 1732.7L1284.9 1734.0L1285.4 1733.7L1285.9 1737.0L1286.4 1740.0L1286.9 1740.8L1287.4 1742.2L1287.9 1739.2L1288.4 1740.8L1288.9 1742.2L1289.4 1743.9L1289.9 1744.5L1290.4 1744.1L1290.9 1746.1L1291.4 1746.0L1291.9 1747.8L1292.4 1750.1L1292.9 1752.4L1293.4 1752.4L1293.9 1753.2L1294.4 1751.4L1294.9 1751.9L1295.4 1754.2L1295.9 1755.4L1296.4 1755.8L1296.9 1755.5L1297.4 1756.0L1297.9 1757.4L1298.4 1759.5L1298.9 1758.8L1299.4 1756.7L1299.9 1760.6L1300.4 1760.8L1300.9 1759.9L1301.4 1761.7L1301.9 1762.0L1302.4 1761.1L1302.9 1760.9L1303.4 1762.4L1303.9 1762.3L1304.4 1763.7L1304.9 1762.5L1305.4 1762.0L1305.9 1761.4L1306.4 1762.4L1306.9 1765.0L1307.4 1761.9L1307.9 1763.5L1308.4 1762.6L1308.9 1762.5L1309.4 1765.3L1309.9 1762.6L1310.4 1763.1L1310.9 1761.5L1311.4 1762.5L1311.9 1764.0L1312.4 1764.0L1312.9 1765.0L1313.4 1765.1L1313.9 1763.9L1314.4 1764.0L1314.9 1764.4L1315.4 1763.6L1315.9 1761.5L1316.4 1762.4L1316.9 1763.4L1317.4 1763.6L1317.9 1761.6L1318.4 1761.7L1318.9 1763.1L1319.4 1762.1L1319.9 1763.3L1320.4 1761.6L1320.9 1760.3L1321.4 1760.2L1321.9 1763.4L1322.4 1761.5L1322.9 1760.8L1323.4 1761.5L1323.9 1760.6L1324.4 1758.7L1324.9 1759.3L1325.4 1760.9L1325.9 1758.7L1326.4 1758.1L1326.9 1758.8L1327.4 1759.2L1327.9 1758.4L1328.4 1760.2L1328.9 1758.7L1329.4 1757.0L1329.9 1757.6L1330.4 1757.7L1330.9 1757.3L1331.4 1756.7L1331.9 1758.5L1332.4 1758.4L1332.9 1757.2L1333.4 1755.9L1333.9 1756.2L1334.4 1756.1L1334.9 1755.3L1335.4 1753.7L1335.9 1754.9L1336.4 1754.6L1336.9 1752.7L1337.4 1753.9L1337.9 1754.7L1338.4 1755.0L1338.9 1754.6L1339.4 1755.0" fill="none" stroke="#8b0c0c" stroke-width="3.4" stroke-linejoin="round"/>
<rect x="1064.8" y="73.4" width="274.6" height="71.6" fill="#fff" stroke="#a2a2a2" stroke-width="4.0"/><line x1="1081.4" y1="105.6" x2="1195.2" y2="105.6" stroke="#ffa64e" stroke-width="5.0"/><text transform="translate(1207 122.8) scale(1 1.090)" font-size="48">FePt<tspan font-size="29.5" dx="2.5" dy="17.3">3</tspan></text>
<rect x="1064.8" y="967.1" width="274.6" height="72.2" fill="#fff" stroke="#a2a2a2" stroke-width="4.0"/><line x1="1081.4" y1="998.2" x2="1195.2" y2="998.2" stroke="#ab3333" stroke-width="5.0"/><text transform="translate(1207 1015.7) scale(1 1.090)" font-size="48">Fe<tspan font-size="29" dx="1" dy="17.3">3</tspan><tspan dx="0.5" dy="-17.3">Pt</tspan></text>
<rect x="169.4" y="33.7" width="1170.0" height="1786.9" fill="none" stroke="#4a4a4a" stroke-width="5.0"/><line x1="169.4" y1="927.2" x2="1339.4" y2="927.2" stroke="#4a4a4a" stroke-width="5.0"/><path d="M169.4 1820.6 V1845.6M211.2 33.7 V46.7M211.2 927.2 V940.2M211.2 1820.6 V1833.8M253.0 33.7 V58.2M253.0 927.2 V951.7M253.0 1820.6 V1845.6M294.8 33.7 V46.7M294.8 927.2 V940.2M294.8 1820.6 V1833.8M336.5 33.7 V58.2M336.5 927.2 V951.7M336.5 1820.6 V1845.6M378.3 33.7 V46.7M378.3 927.2 V940.2M378.3 1820.6 V1833.8M420.1 33.7 V58.2M420.1 927.2 V951.7M420.1 1820.6 V1845.6M461.9 33.7 V46.7M461.9 927.2 V940.2M461.9 1820.6 V1833.8M503.7 33.7 V58.2M503.7 927.2 V951.7M503.7 1820.6 V1845.6M545.5 33.7 V46.7M545.5 927.2 V940.2M545.5 1820.6 V1833.8M587.3 33.7 V58.2M587.3 927.2 V951.7M587.3 1820.6 V1845.6M629.0 33.7 V46.7M629.0 927.2 V940.2M629.0 1820.6 V1833.8M670.8 33.7 V58.2M670.8 927.2 V951.7M670.8 1820.6 V1845.6M712.6 33.7 V46.7M712.6 927.2 V940.2M712.6 1820.6 V1833.8M754.4 33.7 V58.2M754.4 927.2 V951.7M754.4 1820.6 V1845.6M796.2 33.7 V46.7M796.2 927.2 V940.2M796.2 1820.6 V1833.8M838.0 33.7 V58.2M838.0 927.2 V951.7M838.0 1820.6 V1845.6M879.8 33.7 V46.7M879.8 927.2 V940.2M879.8 1820.6 V1833.8M921.5 33.7 V58.2M921.5 927.2 V951.7M921.5 1820.6 V1845.6M963.3 33.7 V46.7M963.3 927.2 V940.2M963.3 1820.6 V1833.8M1005.1 33.7 V58.2M1005.1 927.2 V951.7M1005.1 1820.6 V1845.6M1046.9 33.7 V46.7M1046.9 927.2 V940.2M1046.9 1820.6 V1833.8M1088.7 33.7 V58.2M1088.7 927.2 V951.7M1088.7 1820.6 V1845.6M1130.5 33.7 V46.7M1130.5 927.2 V940.2M1130.5 1820.6 V1833.8M1172.3 33.7 V58.2M1172.3 927.2 V951.7M1172.3 1820.6 V1845.6M1214.0 33.7 V46.7M1214.0 927.2 V940.2M1214.0 1820.6 V1833.8M1255.8 33.7 V58.2M1255.8 927.2 V951.7M1255.8 1820.6 V1845.6M1297.6 33.7 V46.7M1297.6 927.2 V940.2M1297.6 1820.6 V1833.8M1339.4 1820.6 V1845.6" stroke="#3a3a3a" stroke-width="4.4" fill="none"/>
<text transform="translate(170.1 1897.4) scale(1 1.075)" font-size="49.0" text-anchor="middle">20</text><text transform="translate(253.7 1897.4) scale(1 1.075)" font-size="49.0" text-anchor="middle">25</text><text transform="translate(337.2 1897.4) scale(1 1.075)" font-size="49.0" text-anchor="middle">30</text><text transform="translate(420.8 1897.4) scale(1 1.075)" font-size="49.0" text-anchor="middle">35</text><text transform="translate(504.4 1897.4) scale(1 1.075)" font-size="49.0" text-anchor="middle">40</text><text transform="translate(588.0 1897.4) scale(1 1.075)" font-size="49.0" text-anchor="middle">45</text><text transform="translate(671.5 1897.4) scale(1 1.075)" font-size="49.0" text-anchor="middle">50</text><text transform="translate(755.1 1897.4) scale(1 1.075)" font-size="49.0" text-anchor="middle">55</text><text transform="translate(838.7 1897.4) scale(1 1.075)" font-size="49.0" text-anchor="middle">60</text><text transform="translate(922.2 1897.4) scale(1 1.075)" font-size="49.0" text-anchor="middle">65</text><text transform="translate(1005.8 1897.4) scale(1 1.075)" font-size="49.0" text-anchor="middle">70</text><text transform="translate(1089.4 1897.4) scale(1 1.075)" font-size="49.0" text-anchor="middle">75</text><text transform="translate(1173.0 1897.4) scale(1 1.075)" font-size="49.0" text-anchor="middle">80</text><text transform="translate(1256.5 1897.4) scale(1 1.075)" font-size="49.0" text-anchor="middle">85</text><text transform="translate(1340.1 1897.4) scale(1 1.075)" font-size="49.0" text-anchor="middle">90</text>
<text transform="translate(682.8 1999.6) scale(1 1.035)" font-size="60.0" dx="-1.4 -0.7 0 -1.5 0.8 4.2" style="stroke-width:0.2px">2θ (°)</text>
<text transform="translate(79 915.5) rotate(-90) scale(1.024 1)" font-size="59" text-anchor="middle" style="stroke:none">Intensity (a.u.)</text>
<rect x="201.5" y="683.4" width="38" height="89.0" fill="#fff"/><text class="pk" transform="translate(230.4 774.4) rotate(-90)" textLength="90.0" lengthAdjust="spacingAndGlyphs">(00<tspan class="one">1</tspan>)</text><rect x="362.0" y="699.2" width="38" height="89.0" fill="#fff"/><text class="pk" transform="translate(390.9 790.2) rotate(-90)" textLength="90.0" lengthAdjust="spacingAndGlyphs">(0<tspan class="one">1</tspan><tspan class="one">1</tspan>)</text><rect x="490.2" y="74.4" width="38" height="89.0" fill="#fff"/><text class="pk" transform="translate(519.1 165.4) rotate(-90)" textLength="90.0" lengthAdjust="spacingAndGlyphs">(<tspan class="one">1</tspan><tspan class="one">1</tspan><tspan class="one">1</tspan>)</text><rect x="599.5" y="469.9" width="38" height="89.0" fill="#fff"/><text class="pk" transform="translate(628.4 560.9) rotate(-90)" textLength="90.0" lengthAdjust="spacingAndGlyphs">(002)</text><rect x="700.6" y="739.8" width="38" height="89.0" fill="#fff"/><text class="pk" transform="translate(729.5 830.8) rotate(-90)" textLength="90.0" lengthAdjust="spacingAndGlyphs">(0<tspan class="one">1</tspan>2)</text><rect x="791.6" y="752.8" width="38" height="89.0" fill="#fff"/><text class="pk" transform="translate(820.5 843.8) rotate(-90)" textLength="90.0" lengthAdjust="spacingAndGlyphs">(<tspan class="one">1</tspan><tspan class="one">1</tspan>2)</text><rect x="960.0" y="583.0" width="38" height="89.0" fill="#fff"/><text class="pk" transform="translate(988.9 674.0) rotate(-90)" textLength="90.0" lengthAdjust="spacingAndGlyphs">(022)</text><rect x="1040.4" y="758.7" width="38" height="89.0" fill="#fff"/><text class="pk" transform="translate(1069.3 849.7) rotate(-90)" textLength="90.0" lengthAdjust="spacingAndGlyphs">(<tspan class="one">1</tspan>22)</text><rect x="1119.0" y="763.0" width="38" height="89.0" fill="#fff"/><text class="pk" transform="translate(1147.9 854.0) rotate(-90)" textLength="90.0" lengthAdjust="spacingAndGlyphs">(0<tspan class="one">1</tspan>3)</text><rect x="1193.0" y="558.2" width="38" height="89.0" fill="#fff"/><text class="pk" transform="translate(1221.9 649.2) rotate(-90)" textLength="90.0" lengthAdjust="spacingAndGlyphs">(<tspan class="one">1</tspan><tspan class="one">1</tspan>3)</text><rect x="1270.0" y="703.4" width="38" height="89.0" fill="#fff"/><text class="pk" transform="translate(1298.9 794.4) rotate(-90)" textLength="90.0" lengthAdjust="spacingAndGlyphs">(222)</text><rect x="214.3" y="1558.5" width="38" height="89.0" fill="#fff"/><text class="pk" transform="translate(243.2 1649.5) rotate(-90)" textLength="90.0" lengthAdjust="spacingAndGlyphs">(00<tspan class="one">1</tspan>)</text><rect x="378.0" y="1597.6" width="38" height="89.0" fill="#fff"/><text class="pk" transform="translate(406.9 1688.6) rotate(-90)" textLength="90.0" lengthAdjust="spacingAndGlyphs">(0<tspan class="one">1</tspan><tspan class="one">1</tspan>)</text><rect x="510.8" y="965.0" width="38" height="89.0" fill="#fff"/><text class="pk" transform="translate(539.7 1056.0) rotate(-90)" textLength="90.0" lengthAdjust="spacingAndGlyphs">(<tspan class="one">1</tspan><tspan class="one">1</tspan><tspan class="one">1</tspan>)</text><rect x="626.5" y="1439.2" width="38" height="89.0" fill="#fff"/><text class="pk" transform="translate(655.4 1530.2) rotate(-90)" textLength="90.0" lengthAdjust="spacingAndGlyphs">(002)</text><rect x="726.4" y="1633.2" width="38" height="89.0" fill="#fff"/><text class="pk" transform="translate(755.3 1724.2) rotate(-90)" textLength="90.0" lengthAdjust="spacingAndGlyphs">(0<tspan class="one">1</tspan>2)</text><rect x="826.6" y="1647.5" width="38" height="89.0" fill="#fff"/><text class="pk" transform="translate(855.5 1738.5) rotate(-90)" textLength="90.0" lengthAdjust="spacingAndGlyphs">(<tspan class="one">1</tspan><tspan class="one">1</tspan>2)</text><rect x="1002.0" y="1523.6" width="38" height="89.0" fill="#fff"/><text class="pk" transform="translate(1030.9 1614.6) rotate(-90)" textLength="90.0" lengthAdjust="spacingAndGlyphs">(022)</text><rect x="1085.4" y="1651.5" width="38" height="89.0" fill="#fff"/><text class="pk" transform="translate(1114.3 1742.5) rotate(-90)" textLength="90.0" lengthAdjust="spacingAndGlyphs">(<tspan class="one">1</tspan>22)</text><rect x="1167.3" y="1653.0" width="38" height="89.0" fill="#fff"/><text class="pk" transform="translate(1196.2 1744.0) rotate(-90)" textLength="90.0" lengthAdjust="spacingAndGlyphs">(0<tspan class="one">1</tspan>3)</text><rect x="1250.0" y="1538.0" width="38" height="89.0" fill="#fff"/><text class="pk" transform="translate(1278.9 1629.0) rotate(-90)" textLength="90.0" lengthAdjust="spacingAndGlyphs">(<tspan class="one">1</tspan><tspan class="one">1</tspan>3)</text>
</svg>
</body></html>
